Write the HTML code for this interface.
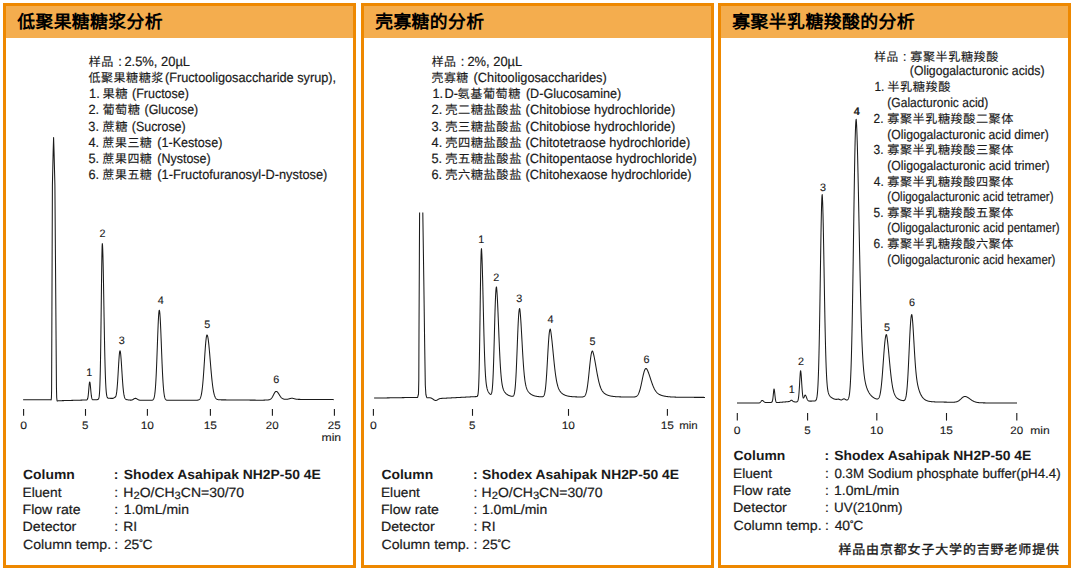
<!DOCTYPE html>
<html lang="zh-CN">
<head>
<meta charset="utf-8">
<title>Shodex Asahipak NH2P-50 4E</title>
<style>
html,body{margin:0;padding:0;background:#fff}
body{width:1075px;height:571px;position:relative;overflow:hidden;font-family:"Liberation Sans", sans-serif;color:#1a1a1a}
.panel{position:absolute;top:3px;width:353px;height:565px;box-sizing:border-box;border:3px solid #ee8800;background:#fff}
.panel .hd{position:absolute;left:0;top:0;right:0;height:32px;background:#f4ad4e}
.plot{position:absolute;left:0;top:0}
.t{position:absolute;white-space:pre;text-rendering:geometricPrecision;-webkit-text-stroke:0.2px currentColor;line-height:20px;height:20px;transform-origin:0 50%}
.t i{font-style:normal}
.t sub{font-size:80%;vertical-align:-2.2px;line-height:0}
.deg{font-size:70%;vertical-align:0.3em;line-height:0;margin:0 -0.04em}

.t i.c{font-size:12.1px;letter-spacing:0.5px;position:relative;top:-0.3px;-webkit-text-stroke:0.12px currentColor}
.t i.c3{font-size:12.0px;letter-spacing:0.5px;position:relative;top:-0.3px;-webkit-text-stroke:0.12px currentColor}
.ttl{letter-spacing:0.4px;color:#000;-webkit-text-stroke:0}
.ax{-webkit-text-stroke:0.12px currentColor}
.b{-webkit-text-stroke:0}
.cb{letter-spacing:0.9px;-webkit-text-stroke:0.35px currentColor}
</style>
</head>
<body>
<div class="panel" style="left:3px"><div class="hd"></div></div>
<div class="panel" style="left:361px"><div class="hd"></div></div>
<div class="panel" style="left:718px"><div class="hd"></div></div>
<svg class="plot" width="1075" height="571" viewBox="0 0 1075 571">
<g fill="none" stroke="#1a1a1a" stroke-width="1.05" stroke-linejoin="round" stroke-linecap="butt">
<path d="M23.10 399.80 L23.30 399.80 L23.50 399.80 L23.70 399.80 L23.90 399.80 L24.10 399.80 L24.30 399.80 L24.50 399.80 L24.70 399.80 L24.90 399.80 L25.10 399.80 L25.30 399.80 L25.50 399.80 L25.70 399.80 L25.90 399.80 L26.10 399.80 L26.30 399.80 L26.50 399.80 L26.70 399.80 L26.90 399.80 L27.10 399.80 L27.30 399.80 L27.50 399.80 L27.70 399.80 L27.90 399.80 L28.10 399.80 L28.30 399.80 L28.50 399.80 L28.70 399.80 L28.90 399.80 L29.10 399.80 L29.30 399.80 L29.50 399.80 L29.70 399.80 L29.90 399.80 L30.10 399.80 L30.30 399.80 L30.50 399.80 L30.70 399.80 L30.90 399.80 L31.10 399.80 L31.30 399.80 L31.50 399.80 L31.70 399.80 L31.90 399.80 L32.10 399.80 L32.30 399.80 L32.50 399.80 L32.70 399.80 L32.90 399.80 L33.10 399.80 L33.30 399.80 L33.50 399.80 L33.70 399.80 L33.90 399.80 L34.10 399.80 L34.30 399.80 L34.50 399.80 L34.70 399.80 L34.90 399.80 L35.10 399.80 L35.30 399.80 L35.50 399.80 L35.70 399.80 L35.90 399.80 L36.10 399.80 L36.30 399.80 L36.50 399.80 L36.70 399.80 L36.90 399.80 L37.10 399.80 L37.30 399.80 L37.50 399.80 L37.70 399.80 L37.90 399.80 L38.10 399.80 L38.30 399.80 L38.50 399.80 L38.70 399.80 L38.90 399.80 L39.10 399.80 L39.30 399.80 L39.50 399.80 L39.70 399.80 L39.90 399.80 L40.10 399.80 L40.30 399.80 L40.50 399.80 L40.70 399.80 L40.90 399.80 L41.10 399.80 L41.30 399.80 L41.50 399.80 L41.70 399.80 L41.90 399.80 L42.10 399.80 L42.30 399.80 L42.50 399.80 L42.70 399.80 L42.90 399.80 L43.10 399.80 L43.30 399.80 L43.50 399.80 L43.70 399.80 L43.90 399.80 L44.10 399.80 L44.30 399.80 L44.50 399.80 L44.70 399.80 L44.90 399.80 L45.10 399.80 L45.30 399.80 L45.50 399.80 L45.70 399.80 L45.90 399.80 L46.10 399.80 L46.30 399.80 L46.50 399.80 L46.70 399.80 L46.90 399.80 L47.10 399.80 L47.30 399.80 L47.50 399.80 L47.70 399.80 L47.90 399.80 L48.10 399.80 L48.30 399.80 L48.50 399.80 L48.70 399.80 L48.90 399.80 L49.10 399.80 L49.30 399.80 L49.50 399.80 L49.70 399.80 L49.90 399.81 L50.10 399.81 L50.30 399.82 L50.50 399.83 L50.70 399.85 L50.90 399.87 L51.10 399.88 L51.20 399.80 L51.45 397.00 L51.60 390.00 L52.40 185.00 L53.15 152.00 L53.60 137.50 L54.05 152.00 L54.90 185.00 L56.45 388.00 L56.70 397.50 L57.10 401.00 L57.80 400.90 L58.10 400.82 L58.30 400.81 L58.50 400.80 L58.70 400.79 L58.90 400.78 L59.10 400.76 L59.30 400.75 L59.50 400.74 L59.70 400.73 L59.90 400.72 L60.10 400.71 L60.30 400.70 L60.50 400.69 L60.70 400.69 L60.90 400.68 L61.10 400.67 L61.30 400.67 L61.50 400.66 L61.70 400.65 L61.90 400.65 L62.10 400.64 L62.30 400.64 L62.50 400.63 L62.70 400.63 L62.90 400.62 L63.10 400.62 L63.30 400.61 L63.50 400.61 L63.70 400.60 L63.90 400.60 L64.10 400.59 L64.30 400.58 L64.50 400.58 L64.70 400.57 L64.90 400.57 L65.10 400.56 L65.30 400.56 L65.50 400.55 L65.70 400.55 L65.90 400.54 L66.10 400.54 L66.30 400.53 L66.50 400.53 L66.70 400.52 L66.90 400.51 L67.10 400.51 L67.30 400.50 L67.50 400.50 L67.70 400.49 L67.90 400.49 L68.10 400.48 L68.30 400.48 L68.50 400.47 L68.70 400.47 L68.90 400.46 L69.10 400.45 L69.30 400.45 L69.50 400.44 L69.70 400.44 L69.90 400.43 L70.10 400.43 L70.30 400.42 L70.50 400.42 L70.70 400.41 L70.90 400.41 L71.10 400.40 L71.30 400.40 L71.50 400.39 L71.70 400.39 L71.90 400.38 L72.10 400.37 L72.30 400.37 L72.50 400.36 L72.70 400.36 L72.90 400.35 L73.10 400.35 L73.30 400.34 L73.50 400.34 L73.70 400.33 L73.90 400.33 L74.10 400.32 L74.30 400.31 L74.50 400.31 L74.70 400.30 L74.90 400.30 L75.10 400.29 L75.30 400.29 L75.50 400.28 L75.70 400.28 L75.90 400.27 L76.10 400.27 L76.30 400.26 L76.50 400.26 L76.70 400.25 L76.90 400.24 L77.10 400.24 L77.30 400.23 L77.50 400.23 L77.70 400.22 L77.90 400.22 L78.10 400.21 L78.30 400.21 L78.50 400.20 L78.70 400.20 L78.90 400.19 L79.10 400.19 L79.30 400.18 L79.50 400.18 L79.70 400.17 L79.90 400.16 L80.10 400.16 L80.30 400.15 L80.50 400.15 L80.70 400.14 L80.90 400.14 L81.10 400.13 L81.30 400.13 L81.50 400.12 L81.70 400.12 L81.90 400.11 L82.10 400.11 L82.30 400.10 L82.50 400.09 L82.70 400.09 L82.90 400.08 L83.10 400.08 L83.30 400.07 L83.50 400.07 L83.70 400.06 L83.90 400.06 L84.10 400.05 L84.30 400.05 L84.50 400.04 L84.70 400.04 L84.90 400.03 L85.10 400.02 L85.30 400.02 L85.50 400.01 L85.70 400.01 L85.90 400.00 L86.10 400.00 L86.30 399.98 L86.50 399.96 L86.70 399.92 L86.90 399.85 L87.10 399.72 L87.30 399.49 L87.50 399.11 L87.70 398.51 L87.90 397.61 L88.10 396.36 L88.30 394.70 L88.50 392.67 L88.70 390.35 L88.90 387.90 L89.10 385.58 L89.30 383.66 L89.50 382.38 L89.70 381.93 L89.90 382.30 L90.10 383.37 L90.30 385.01 L90.50 387.04 L90.70 389.25 L90.90 391.44 L91.10 393.45 L91.30 395.19 L91.50 396.60 L91.70 397.67 L91.90 398.46 L92.10 399.00 L92.30 399.35 L92.50 399.57 L92.70 399.71 L92.90 399.78 L93.10 399.82 L93.30 399.83 L93.50 399.84 L93.70 399.84 L93.90 399.84 L94.10 399.84 L94.30 399.83 L94.50 399.83 L94.70 399.82 L94.90 399.82 L95.10 399.81 L95.30 399.80 L95.50 399.79 L95.70 399.78 L95.90 399.76 L96.10 399.75 L96.30 399.73 L96.50 399.71 L96.70 399.69 L96.90 399.67 L97.10 399.64 L97.30 399.62 L97.50 399.58 L97.70 399.53 L97.90 399.47 L98.10 399.37 L98.30 399.21 L98.50 398.96 L98.70 398.56 L98.90 397.91 L99.10 396.90 L99.30 395.35 L99.50 393.05 L99.70 389.73 L99.90 385.10 L100.10 378.83 L100.30 370.64 L100.50 360.33 L100.70 347.86 L100.90 333.37 L101.10 317.29 L101.30 300.36 L101.50 283.58 L101.70 268.18 L101.90 255.50 L102.10 246.86 L102.30 243.56 L102.50 244.79 L102.70 248.46 L102.90 254.41 L103.10 262.35 L103.30 271.92 L103.50 282.71 L103.70 294.29 L103.90 306.22 L104.10 318.10 L104.30 329.57 L104.50 340.36 L104.70 350.25 L104.90 359.10 L105.10 366.84 L105.30 373.47 L105.50 379.02 L105.70 383.58 L105.90 387.25 L106.10 390.15 L106.30 392.39 L106.50 394.09 L106.70 395.35 L106.90 396.28 L107.10 396.94 L107.30 397.40 L107.50 397.72 L107.70 397.94 L107.90 398.08 L108.10 398.17 L108.30 398.23 L108.50 398.27 L108.70 398.29 L108.90 398.31 L109.10 398.32 L109.30 398.32 L109.50 398.33 L109.70 398.33 L109.90 398.34 L110.10 398.34 L110.30 398.35 L110.50 398.35 L110.70 398.36 L110.90 398.36 L111.10 398.37 L111.30 398.37 L111.50 398.37 L111.70 398.38 L111.90 398.38 L112.10 398.38 L112.30 398.39 L112.50 398.39 L112.70 398.38 L112.90 398.36 L113.10 398.33 L113.30 398.27 L113.50 398.18 L113.70 398.05 L113.90 397.90 L114.10 397.73 L114.30 397.58 L114.50 397.45 L114.60 397.40 L114.70 397.36 L114.90 397.30 L115.10 397.24 L115.30 397.13 L115.50 396.93 L115.70 396.60 L115.90 396.10 L116.10 395.40 L116.30 394.49 L116.50 393.32 L116.70 391.89 L116.90 390.18 L117.10 388.15 L117.30 385.82 L117.50 383.18 L117.70 380.26 L117.90 377.09 L118.10 373.74 L118.30 370.27 L118.50 366.78 L118.70 363.38 L118.90 360.18 L119.10 357.29 L119.30 354.83 L119.50 352.90 L119.70 351.56 L119.90 350.90 L120.00 350.82 L120.10 350.91 L120.30 351.50 L120.50 352.65 L120.70 354.31 L120.90 356.43 L121.10 358.93 L121.30 361.73 L121.50 364.76 L121.70 367.92 L121.90 371.13 L122.10 374.31 L122.30 377.40 L122.50 380.34 L122.70 383.08 L122.90 385.59 L123.10 387.86 L123.30 389.87 L123.50 391.62 L123.70 393.14 L123.90 394.42 L124.10 395.49 L124.30 396.38 L124.50 397.10 L124.70 397.68 L124.90 398.14 L125.10 398.51 L125.30 398.80 L125.50 399.02 L125.70 399.19 L125.90 399.33 L126.10 399.43 L126.30 399.52 L126.50 399.58 L126.70 399.64 L126.90 399.68 L127.10 399.72 L127.30 399.76 L127.50 399.79 L127.70 399.82 L127.90 399.85 L128.10 399.88 L128.30 399.90 L128.50 399.93 L128.70 399.96 L128.90 399.98 L129.10 400.01 L129.30 400.03 L129.50 400.05 L129.70 400.07 L129.90 400.09 L130.10 400.11 L130.30 400.13 L130.50 400.14 L130.70 400.14 L130.90 400.14 L131.10 400.13 L131.30 400.11 L131.50 400.08 L131.70 400.04 L131.90 399.99 L132.10 399.93 L132.30 399.85 L132.50 399.77 L132.70 399.67 L132.90 399.56 L133.10 399.44 L133.30 399.32 L133.50 399.19 L133.70 399.06 L133.90 398.93 L134.10 398.80 L134.30 398.69 L134.50 398.59 L134.70 398.50 L134.90 398.43 L135.10 398.39 L135.30 398.36 L135.40 398.36 L135.50 398.36 L135.70 398.38 L135.90 398.42 L136.10 398.48 L136.30 398.57 L136.50 398.66 L136.70 398.77 L136.90 398.89 L137.10 399.01 L137.30 399.14 L137.50 399.27 L137.70 399.39 L137.90 399.51 L138.10 399.62 L138.30 399.72 L138.50 399.81 L138.70 399.90 L138.90 399.97 L139.10 400.03 L139.30 400.08 L139.50 400.13 L139.70 400.17 L139.90 400.20 L140.10 400.22 L140.30 400.24 L140.50 400.25 L140.70 400.27 L140.90 400.27 L141.10 400.28 L141.30 400.29 L141.50 400.29 L141.70 400.29 L141.90 400.30 L142.10 400.30 L142.30 400.30 L142.50 400.30 L142.70 400.30 L142.90 400.30 L143.10 400.30 L143.30 400.30 L143.50 400.30 L143.70 400.30 L143.90 400.30 L144.10 400.30 L144.30 400.30 L144.50 400.30 L144.70 400.30 L144.90 400.30 L145.10 400.30 L145.30 400.30 L145.50 400.30 L145.70 400.30 L145.90 400.30 L146.10 400.30 L146.30 400.30 L146.50 400.30 L146.70 400.30 L146.90 400.30 L147.10 400.30 L147.30 400.30 L147.50 400.30 L147.70 400.30 L147.90 400.30 L148.10 400.30 L148.30 400.30 L148.50 400.30 L148.70 400.30 L148.90 400.30 L149.10 400.30 L149.30 400.30 L149.50 400.30 L149.70 400.30 L149.90 400.30 L150.10 400.30 L150.30 400.30 L150.50 400.30 L150.70 400.29 L150.90 400.29 L151.10 400.29 L151.30 400.28 L151.50 400.27 L151.70 400.25 L151.90 400.23 L152.10 400.20 L152.30 400.15 L152.50 400.09 L152.70 400.00 L152.90 399.88 L153.10 399.72 L153.30 399.50 L153.50 399.20 L153.70 398.82 L153.90 398.33 L154.10 397.70 L154.30 396.90 L154.50 395.90 L154.70 394.68 L154.90 393.18 L155.10 391.38 L155.30 389.24 L155.50 386.73 L155.70 383.83 L155.90 380.51 L156.10 376.77 L156.30 372.62 L156.50 368.08 L156.70 363.18 L156.90 357.99 L157.10 352.57 L157.30 347.01 L157.50 341.43 L157.70 335.95 L157.90 330.68 L158.10 325.78 L158.30 321.35 L158.50 317.54 L158.70 314.45 L158.90 312.17 L159.10 310.77 L159.30 310.30 L159.50 310.71 L159.70 311.95 L159.90 313.96 L160.10 316.71 L160.30 320.12 L160.50 324.09 L160.70 328.53 L160.90 333.33 L161.10 338.39 L161.30 343.59 L161.50 348.83 L161.70 354.02 L161.90 359.07 L162.10 363.90 L162.30 368.47 L162.50 372.71 L162.70 376.61 L162.90 380.15 L163.10 383.32 L163.30 386.11 L163.50 388.56 L163.70 390.68 L163.90 392.48 L164.10 394.01 L164.30 395.28 L164.50 396.34 L164.70 397.20 L164.90 397.89 L165.10 398.45 L165.30 398.89 L165.50 399.24 L165.70 399.51 L165.90 399.71 L166.10 399.87 L166.30 399.99 L166.50 400.07 L166.70 400.14 L166.90 400.19 L167.10 400.22 L167.30 400.24 L167.50 400.26 L167.70 400.27 L167.90 400.28 L168.10 400.29 L168.30 400.29 L168.50 400.29 L168.70 400.30 L168.90 400.30 L169.10 400.30 L169.30 400.30 L169.50 400.30 L169.70 400.30 L169.90 400.30 L170.10 400.30 L170.30 400.30 L170.50 400.30 L170.70 400.30 L170.90 400.30 L171.10 400.30 L171.30 400.30 L171.50 400.29 L171.70 400.29 L171.90 400.29 L172.10 400.29 L172.30 400.29 L172.50 400.29 L172.70 400.29 L172.90 400.29 L173.10 400.29 L173.30 400.29 L173.50 400.29 L173.70 400.29 L173.90 400.29 L174.10 400.29 L174.30 400.29 L174.50 400.28 L174.70 400.28 L174.90 400.28 L175.10 400.28 L175.30 400.28 L175.50 400.28 L175.70 400.28 L175.90 400.28 L176.10 400.28 L176.30 400.28 L176.50 400.28 L176.70 400.28 L176.90 400.28 L177.10 400.28 L177.30 400.28 L177.50 400.28 L177.70 400.27 L177.90 400.27 L178.10 400.27 L178.30 400.27 L178.50 400.27 L178.70 400.27 L178.90 400.27 L179.10 400.27 L179.30 400.27 L179.50 400.27 L179.70 400.27 L179.90 400.27 L180.10 400.27 L180.30 400.27 L180.50 400.26 L180.70 400.26 L180.90 400.26 L181.10 400.26 L181.30 400.26 L181.50 400.26 L181.70 400.26 L181.90 400.26 L182.10 400.26 L182.30 400.26 L182.50 400.26 L182.70 400.26 L182.90 400.26 L183.10 400.26 L183.30 400.26 L183.50 400.26 L183.70 400.25 L183.90 400.25 L184.10 400.25 L184.30 400.25 L184.50 400.25 L184.70 400.25 L184.90 400.25 L185.10 400.25 L185.30 400.25 L185.50 400.25 L185.70 400.25 L185.90 400.25 L186.10 400.25 L186.30 400.25 L186.50 400.24 L186.70 400.24 L186.90 400.24 L187.10 400.24 L187.30 400.24 L187.50 400.24 L187.70 400.24 L187.90 400.24 L188.10 400.24 L188.30 400.24 L188.50 400.24 L188.70 400.24 L188.90 400.24 L189.10 400.24 L189.30 400.24 L189.50 400.23 L189.70 400.23 L189.90 400.23 L190.10 400.23 L190.30 400.23 L190.50 400.23 L190.70 400.23 L190.90 400.23 L191.10 400.23 L191.30 400.23 L191.50 400.23 L191.70 400.23 L191.90 400.23 L192.10 400.23 L192.30 400.23 L192.50 400.22 L192.70 400.22 L192.90 400.22 L193.10 400.22 L193.30 400.22 L193.50 400.22 L193.70 400.22 L193.90 400.22 L194.10 400.22 L194.30 400.22 L194.50 400.22 L194.70 400.22 L194.90 400.22 L195.10 400.22 L195.30 400.21 L195.50 400.21 L195.70 400.21 L195.90 400.21 L196.10 400.21 L196.30 400.20 L196.50 400.20 L196.70 400.19 L196.90 400.19 L197.10 400.18 L197.30 400.16 L197.50 400.15 L197.70 400.12 L197.90 400.10 L198.10 400.06 L198.30 400.01 L198.50 399.96 L198.70 399.88 L198.90 399.79 L199.10 399.67 L199.30 399.52 L199.50 399.34 L199.70 399.12 L199.90 398.85 L200.10 398.53 L200.30 398.14 L200.50 397.67 L200.70 397.12 L200.90 396.47 L201.10 395.72 L201.30 394.84 L201.50 393.83 L201.70 392.68 L201.90 391.38 L202.10 389.92 L202.30 388.28 L202.50 386.47 L202.70 384.48 L202.90 382.31 L203.10 379.97 L203.30 377.46 L203.50 374.80 L203.70 372.00 L203.90 369.09 L204.10 366.08 L204.30 363.01 L204.50 359.91 L204.70 356.83 L204.90 353.79 L205.10 350.84 L205.30 348.03 L205.50 345.40 L205.70 342.98 L205.90 340.83 L206.10 338.97 L206.30 337.44 L206.50 336.27 L206.70 335.47 L206.90 335.07 L207.00 335.01 L207.10 335.04 L207.30 335.29 L207.50 335.78 L207.70 336.51 L207.90 337.47 L208.10 338.65 L208.30 340.04 L208.50 341.63 L208.70 343.39 L208.90 345.30 L209.10 347.36 L209.30 349.53 L209.50 351.79 L209.70 354.13 L209.90 356.53 L210.10 358.95 L210.30 361.39 L210.50 363.82 L210.70 366.22 L210.90 368.59 L211.10 370.90 L211.30 373.14 L211.50 375.30 L211.70 377.38 L211.90 379.35 L212.10 381.23 L212.30 382.99 L212.50 384.65 L212.70 386.20 L212.90 387.63 L213.10 388.96 L213.30 390.17 L213.50 391.29 L213.70 392.30 L213.90 393.22 L214.10 394.05 L214.30 394.79 L214.50 395.45 L214.70 396.04 L214.90 396.57 L215.10 397.03 L215.30 397.43 L215.50 397.78 L215.70 398.09 L215.90 398.36 L216.10 398.59 L216.30 398.79 L216.50 398.96 L216.70 399.10 L216.90 399.23 L217.10 399.33 L217.30 399.42 L217.50 399.49 L217.70 399.56 L217.90 399.61 L218.10 399.65 L218.30 399.69 L218.50 399.72 L218.70 399.74 L218.90 399.76 L219.10 399.78 L219.30 399.79 L219.50 399.80 L219.70 399.81 L219.90 399.82 L220.10 399.83 L220.30 399.83 L220.50 399.84 L220.70 399.84 L220.90 399.84 L221.10 399.85 L221.30 399.85 L221.50 399.85 L221.70 399.85 L221.90 399.86 L222.10 399.86 L222.30 399.86 L222.50 399.86 L222.70 399.87 L222.90 399.87 L223.10 399.87 L223.30 399.87 L223.50 399.87 L223.70 399.87 L223.90 399.88 L224.10 399.88 L224.30 399.88 L224.50 399.88 L224.70 399.88 L224.90 399.88 L225.10 399.89 L225.30 399.89 L225.50 399.89 L225.70 399.89 L225.90 399.89 L226.10 399.89 L226.30 399.90 L226.50 399.90 L226.70 399.90 L226.90 399.90 L227.10 399.90 L227.30 399.90 L227.50 399.91 L227.70 399.91 L227.90 399.91 L228.10 399.91 L228.30 399.91 L228.50 399.91 L228.70 399.92 L228.90 399.92 L229.10 399.92 L229.30 399.92 L229.50 399.92 L229.70 399.93 L229.90 399.93 L230.10 399.93 L230.30 399.93 L230.50 399.93 L230.70 399.93 L230.90 399.94 L231.10 399.94 L231.30 399.94 L231.50 399.94 L231.70 399.94 L231.90 399.94 L232.10 399.95 L232.30 399.95 L232.50 399.95 L232.70 399.95 L232.90 399.95 L233.10 399.95 L233.30 399.96 L233.50 399.96 L233.70 399.96 L233.90 399.96 L234.10 399.96 L234.30 399.96 L234.50 399.97 L234.70 399.97 L234.90 399.97 L235.10 399.97 L235.30 399.97 L235.50 399.97 L235.70 399.98 L235.90 399.98 L236.10 399.98 L236.30 399.98 L236.50 399.98 L236.70 399.98 L236.90 399.99 L237.10 399.99 L237.30 399.99 L237.50 399.99 L237.70 399.99 L237.90 399.99 L238.10 400.00 L238.30 400.00 L238.50 400.00 L238.70 400.00 L238.90 400.00 L239.10 400.01 L239.30 400.01 L239.50 400.01 L239.70 400.01 L239.90 400.01 L240.10 400.01 L240.30 400.02 L240.50 400.02 L240.70 400.02 L240.90 400.02 L241.10 400.02 L241.30 400.02 L241.50 400.03 L241.70 400.03 L241.90 400.03 L242.10 400.03 L242.30 400.03 L242.50 400.03 L242.70 400.04 L242.90 400.04 L243.10 400.04 L243.30 400.04 L243.50 400.04 L243.70 400.04 L243.90 400.05 L244.10 400.05 L244.30 400.05 L244.50 400.05 L244.70 400.05 L244.90 400.05 L245.10 400.06 L245.30 400.06 L245.50 400.06 L245.70 400.06 L245.90 400.06 L246.10 400.06 L246.30 400.07 L246.50 400.07 L246.70 400.07 L246.90 400.07 L247.10 400.07 L247.30 400.07 L247.50 400.08 L247.70 400.08 L247.90 400.08 L248.10 400.08 L248.30 400.08 L248.50 400.09 L248.70 400.09 L248.90 400.09 L249.10 400.09 L249.30 400.09 L249.50 400.09 L249.70 400.10 L249.90 400.10 L250.10 400.10 L250.30 400.10 L250.50 400.10 L250.70 400.10 L250.90 400.11 L251.10 400.11 L251.30 400.11 L251.50 400.11 L251.70 400.11 L251.90 400.11 L252.10 400.12 L252.30 400.12 L252.50 400.12 L252.70 400.12 L252.90 400.12 L253.10 400.12 L253.30 400.13 L253.50 400.13 L253.70 400.13 L253.90 400.13 L254.10 400.13 L254.30 400.13 L254.50 400.14 L254.70 400.14 L254.90 400.14 L255.10 400.14 L255.30 400.14 L255.50 400.14 L255.70 400.15 L255.90 400.15 L256.10 400.15 L256.30 400.15 L256.50 400.15 L256.70 400.15 L256.90 400.16 L257.10 400.16 L257.30 400.16 L257.50 400.16 L257.70 400.16 L257.90 400.17 L258.10 400.17 L258.30 400.17 L258.50 400.17 L258.70 400.17 L258.90 400.17 L259.10 400.18 L259.30 400.18 L259.50 400.18 L259.70 400.18 L259.90 400.18 L260.10 400.18 L260.30 400.19 L260.50 400.19 L260.70 400.19 L260.90 400.19 L261.10 400.19 L261.30 400.19 L261.50 400.19 L261.70 400.19 L261.90 400.18 L262.10 400.18 L262.30 400.18 L262.50 400.17 L262.70 400.17 L262.90 400.16 L263.10 400.16 L263.30 400.15 L263.50 400.15 L263.70 400.14 L263.90 400.13 L264.10 400.12 L264.30 400.12 L264.50 400.11 L264.70 400.10 L264.90 400.10 L265.10 400.09 L265.30 400.08 L265.50 400.07 L265.70 400.07 L265.90 400.06 L266.10 400.05 L266.30 400.04 L266.50 400.03 L266.70 400.02 L266.90 400.01 L267.10 400.00 L267.30 399.99 L267.50 399.98 L267.70 399.96 L267.90 399.94 L268.10 399.92 L268.30 399.90 L268.50 399.87 L268.70 399.84 L268.90 399.80 L269.10 399.76 L269.30 399.70 L269.50 399.64 L269.70 399.57 L269.90 399.49 L270.10 399.39 L270.30 399.28 L270.50 399.15 L270.70 399.01 L270.90 398.85 L271.10 398.66 L271.30 398.46 L271.50 398.23 L271.70 397.98 L271.90 397.71 L272.10 397.42 L272.30 397.10 L272.50 396.77 L272.70 396.41 L272.90 396.04 L273.10 395.65 L273.30 395.26 L273.50 394.86 L273.70 394.46 L273.90 394.06 L274.10 393.67 L274.30 393.29 L274.50 392.94 L274.70 392.61 L274.90 392.31 L275.10 392.05 L275.30 391.82 L275.50 391.64 L275.70 391.51 L275.90 391.43 L276.10 391.40 L276.30 391.41 L276.50 391.45 L276.70 391.53 L276.90 391.65 L277.10 391.79 L277.30 391.97 L277.50 392.17 L277.70 392.40 L277.90 392.65 L278.10 392.92 L278.30 393.21 L278.50 393.51 L278.70 393.82 L278.90 394.14 L279.10 394.46 L279.30 394.78 L279.50 395.10 L279.70 395.42 L279.90 395.73 L280.10 396.03 L280.30 396.32 L280.50 396.59 L280.70 396.86 L280.90 397.10 L281.10 397.34 L281.30 397.56 L281.50 397.76 L281.70 397.95 L281.90 398.12 L282.10 398.27 L282.30 398.41 L282.50 398.54 L282.70 398.65 L282.90 398.75 L283.10 398.84 L283.30 398.92 L283.50 398.99 L283.70 399.05 L283.90 399.10 L284.10 399.14 L284.30 399.17 L284.50 399.20 L284.70 399.23 L284.90 399.25 L285.10 399.26 L285.30 399.27 L285.50 399.28 L285.70 399.28 L285.90 399.28 L286.10 399.28 L286.30 399.27 L286.50 399.26 L286.70 399.25 L286.90 399.24 L287.10 399.22 L287.30 399.20 L287.50 399.18 L287.70 399.15 L287.90 399.12 L288.10 399.08 L288.30 399.04 L288.50 398.99 L288.70 398.95 L288.90 398.90 L289.10 398.84 L289.30 398.79 L289.50 398.73 L289.70 398.67 L289.90 398.61 L290.10 398.55 L290.30 398.50 L290.50 398.44 L290.70 398.39 L290.90 398.35 L291.10 398.31 L291.30 398.28 L291.50 398.26 L291.70 398.24 L291.90 398.24 L292.00 398.24 L292.10 398.24 L292.30 398.26 L292.50 398.28 L292.70 398.31 L292.90 398.34 L293.10 398.39 L293.30 398.44 L293.50 398.49 L293.70 398.55 L293.90 398.61 L294.10 398.67 L294.30 398.73 L294.50 398.79 L294.70 398.85 L294.90 398.90 L295.10 398.96 L295.30 399.01 L295.50 399.05 L295.70 399.09 L295.90 399.13 L296.10 399.17 L296.30 399.20 L296.50 399.22 L296.70 399.25 L296.90 399.27 L297.10 399.29 L297.30 399.30 L297.50 399.32 L297.70 399.33 L297.90 399.34 L298.10 399.35 L298.30 399.35 L298.50 399.36 L298.70 399.37 L298.90 399.37 L299.10 399.38 L299.30 399.38 L299.50 399.39 L299.70 399.39 L299.90 399.39 L300.10 399.39 L300.30 399.40 L300.50 399.40 L300.70 399.40 L300.90 399.40 L301.10 399.41 L301.30 399.41 L301.50 399.41 L301.70 399.41 L301.90 399.41 L302.10 399.41 L302.30 399.41 L302.50 399.41 L302.70 399.42 L302.90 399.42 L303.10 399.42 L303.30 399.42 L303.50 399.42 L303.70 399.42 L303.90 399.42 L304.10 399.42 L304.30 399.43 L304.50 399.43 L304.70 399.43 L304.90 399.43 L305.10 399.43 L305.30 399.43 L305.50 399.43 L305.70 399.43 L305.90 399.43 L306.10 399.44 L306.30 399.44 L306.50 399.44 L306.70 399.44 L306.90 399.44 L307.10 399.44 L307.30 399.44 L307.50 399.44 L307.70 399.45 L307.90 399.45 L308.10 399.45 L308.30 399.45 L308.50 399.45 L308.70 399.45 L308.90 399.45 L309.10 399.45 L309.30 399.45 L309.50 399.46 L309.70 399.46 L309.90 399.46 L310.10 399.46 L310.30 399.46 L310.50 399.46 L310.70 399.46 L310.90 399.46 L311.10 399.47 L311.30 399.47 L311.50 399.47 L311.70 399.47 L311.90 399.47 L312.10 399.47 L312.30 399.47 L312.50 399.47 L312.70 399.47 L312.90 399.48 L313.10 399.48 L313.30 399.48 L313.50 399.48 L313.70 399.48 L313.90 399.48 L314.10 399.48 L314.30 399.48 L314.50 399.49 L314.70 399.49 L314.90 399.49 L315.10 399.49 L315.30 399.49 L315.50 399.49 L315.70 399.49 L315.90 399.49 L316.10 399.49 L316.30 399.50 L316.50 399.50 L316.70 399.50 L316.90 399.50 L317.10 399.50 L317.30 399.50 L317.50 399.50 L317.70 399.50 L317.90 399.51 L318.10 399.51 L318.30 399.51 L318.50 399.51 L318.70 399.51 L318.90 399.51 L319.10 399.51 L319.30 399.51 L319.50 399.51 L319.70 399.52 L319.90 399.52 L320.10 399.52 L320.30 399.52 L320.50 399.52 L320.70 399.52 L320.90 399.52 L321.10 399.52 L321.30 399.53 L321.50 399.53 L321.70 399.53 L321.90 399.53 L322.10 399.53 L322.30 399.53 L322.50 399.53 L322.70 399.53 L322.90 399.53 L323.10 399.54 L323.30 399.54 L323.50 399.54 L323.70 399.54 L323.90 399.54 L324.10 399.54 L324.30 399.54 L324.50 399.54 L324.70 399.55 L324.90 399.55 L325.10 399.55 L325.30 399.55 L325.50 399.55 L325.70 399.55 L325.90 399.55 L326.10 399.55 L326.30 399.55 L326.50 399.56 L326.70 399.56 L326.90 399.56 L327.10 399.56 L327.30 399.56 L327.50 399.56 L327.70 399.56 L327.90 399.56 L328.10 399.57 L328.30 399.57 L328.50 399.57 L328.70 399.57 L328.90 399.57 L329.10 399.57 L329.30 399.57 L329.50 399.57 L329.70 399.57 L329.90 399.58 L330.10 399.58 L330.30 399.58 L330.50 399.58 L330.70 399.58 L330.90 399.58 L331.10 399.58 L331.30 399.58 L331.50 399.59 L331.70 399.59 L331.90 399.59 L332.10 399.59 L332.30 399.59 L332.50 399.59 L332.70 399.59 L332.90 399.59 L333.10 399.59 L333.30 399.60 L333.50 399.60 L333.70 399.60"/>
<path d="M374.10 398.09 L374.60 398.09 L375.10 398.08 L375.60 398.08 L376.10 398.07 L376.60 398.06 L377.10 398.05 L377.60 398.04 L378.10 398.03 L378.60 398.03 L379.10 398.02 L379.60 398.01 L380.10 398.00 L380.60 397.99 L381.10 397.99 L381.60 397.98 L382.10 397.97 L382.60 397.96 L383.10 397.95 L383.60 397.94 L384.10 397.94 L384.60 397.93 L385.10 397.92 L385.60 397.91 L386.10 397.90 L386.60 397.90 L387.10 397.89 L387.60 397.88 L388.10 397.87 L388.60 397.86 L389.10 397.85 L389.60 397.85 L390.10 397.84 L390.60 397.83 L391.10 397.82 L391.60 397.81 L392.10 397.80 L392.60 397.80 L393.10 397.79 L393.60 397.78 L394.10 397.77 L394.60 397.76 L395.10 397.76 L395.60 397.75 L396.10 397.74 L396.60 397.73 L397.10 397.72 L397.60 397.71 L398.10 397.71 L398.60 397.70 L399.10 397.69 L399.60 397.68 L400.10 397.67 L400.60 397.67 L401.10 397.66 L401.60 397.65 L402.10 397.64 L402.60 397.63 L403.10 397.62 L403.60 397.62 L404.10 397.61 L404.60 397.60 L405.10 397.59 L405.60 397.58 L406.10 397.58 L406.60 397.57 L407.10 397.56 L407.60 397.55 L408.10 397.54 L408.60 397.53 L409.10 397.53 L409.60 397.52 L410.10 397.51 L410.60 397.50 L411.10 397.49 L411.60 397.49 L412.10 397.48 L412.60 397.47 L413.10 397.46 L413.60 397.45 L414.10 397.44 L414.60 397.44 L415.10 397.43 L415.60 397.42 L416.10 397.42 L416.60 397.42 L417.10 397.43 L417.60 397.44 L418.50 394.00 L418.80 380.00 L419.00 330.00 L419.60 212.60"/>
<path d="M422.80 212.60 L423.80 280.00 L424.60 340.00 L425.30 385.00 L425.90 394.50 L426.60 397.20 L427.00 397.76 L427.20 397.76 L427.40 397.76 L427.60 397.75 L427.80 397.74 L428.00 397.74 L428.20 397.73 L428.40 397.72 L428.60 397.71 L428.80 397.70 L429.00 397.69 L429.20 397.68 L429.40 397.69 L429.60 397.70 L429.80 397.73 L430.00 397.75 L430.20 397.80 L430.40 397.84 L430.60 397.89 L430.80 397.96 L431.00 398.03 L431.20 398.11 L431.40 398.19 L431.60 398.29 L431.80 398.40 L432.00 398.52 L432.20 398.64 L432.40 398.77 L432.60 398.90 L432.80 399.03 L433.00 399.16 L433.20 399.29 L433.40 399.43 L433.60 399.56 L433.80 399.69 L434.00 399.83 L434.20 399.97 L434.40 400.09 L434.60 400.19 L434.80 400.28 L435.00 400.34 L435.20 400.40 L435.40 400.43 L435.60 400.45 L435.80 400.45 L436.00 400.44 L436.20 400.41 L436.40 400.36 L436.60 400.31 L436.80 400.22 L437.00 400.13 L437.20 400.01 L437.40 399.88 L437.60 399.75 L437.80 399.62 L438.00 399.49 L438.20 399.36 L438.40 399.25 L438.60 399.14 L438.80 399.04 L439.00 398.94 L439.20 398.86 L439.40 398.78 L439.60 398.71 L439.80 398.65 L440.00 398.59 L440.20 398.54 L440.40 398.50 L440.60 398.47 L440.80 398.44 L441.00 398.42 L441.20 398.41 L441.40 398.40 L441.60 398.39 L441.80 398.38 L442.00 398.37 L442.20 398.36 L442.40 398.35 L442.60 398.34 L442.80 398.33 L443.00 398.32 L443.20 398.31 L443.40 398.29 L443.60 398.28 L443.80 398.27 L444.00 398.26 L444.20 398.25 L444.40 398.24 L444.60 398.23 L444.80 398.22 L445.00 398.21 L445.20 398.20 L445.40 398.19 L445.60 398.18 L445.80 398.17 L446.00 398.16 L446.20 398.15 L446.40 398.14 L446.60 398.13 L446.80 398.12 L447.00 398.11 L447.20 398.09 L447.40 398.08 L447.60 398.07 L447.80 398.06 L448.00 398.05 L448.20 398.04 L448.40 398.03 L448.60 398.02 L448.80 398.01 L449.00 398.00 L449.20 397.99 L449.40 397.98 L449.60 397.97 L449.80 397.96 L450.00 397.95 L450.20 397.94 L450.40 397.93 L450.60 397.92 L450.80 397.91 L451.00 397.89 L451.20 397.88 L451.40 397.87 L451.60 397.86 L451.80 397.85 L452.00 397.84 L452.20 397.83 L452.40 397.82 L452.60 397.81 L452.80 397.80 L453.00 397.79 L453.20 397.78 L453.40 397.77 L453.60 397.76 L453.80 397.75 L454.00 397.74 L454.20 397.73 L454.40 397.72 L454.60 397.71 L454.80 397.69 L455.00 397.68 L455.20 397.67 L455.40 397.66 L455.60 397.65 L455.80 397.64 L456.00 397.63 L456.20 397.62 L456.40 397.61 L456.60 397.60 L456.80 397.59 L457.00 397.58 L457.20 397.57 L457.40 397.56 L457.60 397.55 L457.80 397.54 L458.00 397.53 L458.20 397.52 L458.40 397.51 L458.60 397.49 L458.80 397.48 L459.00 397.47 L459.20 397.46 L459.40 397.45 L459.60 397.44 L459.80 397.43 L460.00 397.42 L460.20 397.41 L460.40 397.40 L460.60 397.39 L460.80 397.38 L461.00 397.37 L461.20 397.36 L461.40 397.35 L461.60 397.34 L461.80 397.33 L462.00 397.32 L462.20 397.31 L462.40 397.29 L462.60 397.28 L462.80 397.27 L463.00 397.26 L463.20 397.25 L463.40 397.24 L463.60 397.23 L463.80 397.22 L464.00 397.21 L464.20 397.20 L464.40 397.19 L464.60 397.18 L464.80 397.17 L465.00 397.16 L465.20 397.15 L465.40 397.14 L465.60 397.13 L465.80 397.12 L466.00 397.11 L466.20 397.09 L466.40 397.08 L466.60 397.07 L466.80 397.06 L467.00 397.05 L467.20 397.04 L467.40 397.03 L467.60 397.02 L467.80 397.01 L468.00 397.00 L468.20 396.99 L468.40 396.98 L468.60 396.97 L468.80 396.96 L469.00 396.95 L469.20 396.94 L469.40 396.93 L469.60 396.92 L469.80 396.91 L470.00 396.89 L470.20 396.88 L470.40 396.87 L470.60 396.86 L470.80 396.85 L471.00 396.84 L471.20 396.83 L471.40 396.82 L471.60 396.81 L471.80 396.80 L472.00 396.79 L472.20 396.78 L472.40 396.77 L472.60 396.76 L472.80 396.75 L473.00 396.74 L473.20 396.73 L473.40 396.72 L473.60 396.71 L473.80 396.69 L474.00 396.68 L474.20 396.67 L474.40 396.66 L474.60 396.66 L474.80 396.65 L475.00 396.64 L475.20 396.64 L475.40 396.63 L475.60 396.62 L475.80 396.62 L476.00 396.62 L476.20 396.61 L476.40 396.60 L476.60 396.59 L476.80 396.56 L477.00 396.51 L477.20 396.40 L477.40 396.21 L477.60 395.86 L477.80 395.27 L478.00 394.31 L478.20 392.79 L478.40 390.50 L478.60 387.17 L478.80 382.52 L479.00 376.28 L479.20 368.25 L479.40 358.34 L479.60 346.62 L479.80 333.34 L480.00 318.98 L480.20 304.21 L480.40 289.81 L480.60 276.63 L480.80 265.46 L481.00 256.92 L481.20 251.39 L481.40 248.90 L481.50 248.65 L481.60 249.76 L481.80 253.18 L482.00 257.88 L482.20 263.71 L482.40 270.50 L482.60 278.07 L482.80 286.22 L483.00 294.76 L483.20 303.47 L483.40 312.18 L483.60 320.70 L483.80 328.90 L484.00 336.63 L484.20 343.82 L484.40 350.41 L484.60 356.35 L484.80 361.64 L485.00 366.30 L485.20 370.36 L485.40 373.85 L485.60 376.84 L485.80 379.38 L486.00 381.52 L486.20 383.33 L486.40 384.84 L486.60 386.12 L486.80 387.21 L487.00 388.13 L487.20 388.91 L487.40 389.60 L487.60 390.19 L487.80 390.71 L488.00 391.18 L488.20 391.60 L488.40 391.98 L488.60 392.33 L488.80 392.65 L489.00 392.94 L489.20 393.20 L489.40 393.45 L489.60 393.68 L489.80 393.88 L490.00 394.05 L490.20 394.20 L490.40 394.31 L490.60 394.38 L490.80 394.38 L491.00 394.29 L491.20 394.09 L491.40 393.74 L491.60 393.18 L491.80 392.37 L492.00 391.23 L492.20 389.70 L492.40 387.70 L492.60 385.15 L492.80 381.98 L493.00 378.15 L493.20 373.62 L493.40 368.37 L493.60 362.45 L493.80 355.90 L494.00 348.85 L494.20 341.42 L494.40 333.80 L494.60 326.19 L494.80 318.79 L495.00 311.81 L495.20 305.46 L495.40 299.91 L495.60 295.30 L495.80 291.70 L496.00 289.16 L496.20 287.63 L496.40 287.01 L496.50 286.96 L496.60 287.67 L496.80 289.69 L497.00 292.33 L497.20 295.50 L497.40 299.15 L497.60 303.22 L497.80 307.63 L498.00 312.32 L498.20 317.22 L498.40 322.24 L498.60 327.32 L498.80 332.40 L499.00 337.40 L499.20 342.26 L499.40 346.95 L499.60 351.41 L499.80 355.62 L500.00 359.55 L500.20 363.19 L500.40 366.54 L500.60 369.58 L500.80 372.34 L501.00 374.82 L501.20 377.03 L501.40 378.99 L501.60 380.73 L501.80 382.27 L502.00 383.62 L502.20 384.80 L502.40 385.84 L502.60 386.76 L502.80 387.57 L503.00 388.28 L503.20 388.91 L503.40 389.47 L503.60 389.97 L503.80 390.43 L504.00 390.84 L504.20 391.21 L504.40 391.56 L504.60 391.88 L504.80 392.17 L505.00 392.44 L505.20 392.70 L505.40 392.93 L505.60 393.16 L505.80 393.37 L506.00 393.57 L506.20 393.75 L506.40 393.93 L506.60 394.10 L506.80 394.25 L507.00 394.40 L507.20 394.54 L507.40 394.68 L507.60 394.80 L507.80 394.92 L508.00 395.03 L508.20 395.14 L508.40 395.24 L508.60 395.34 L508.80 395.43 L509.00 395.51 L509.20 395.59 L509.40 395.67 L509.60 395.74 L509.80 395.81 L510.00 395.87 L510.20 395.93 L510.40 395.99 L510.60 396.05 L510.80 396.10 L511.00 396.14 L511.20 396.19 L511.40 396.23 L511.60 396.26 L511.80 396.29 L512.00 396.32 L512.20 396.33 L512.40 396.33 L512.60 396.31 L512.80 396.26 L513.00 396.19 L513.20 396.07 L513.40 395.88 L513.60 395.62 L513.80 395.26 L514.00 394.78 L514.20 394.14 L514.40 393.31 L514.60 392.26 L514.80 390.94 L515.00 389.32 L515.20 387.37 L515.40 385.04 L515.60 382.32 L515.80 379.20 L516.00 375.65 L516.20 371.71 L516.40 367.38 L516.60 362.72 L516.80 357.78 L517.00 352.65 L517.20 347.40 L517.40 342.13 L517.60 336.95 L517.80 331.97 L518.00 327.29 L518.20 323.01 L518.40 319.21 L518.60 315.95 L518.80 313.28 L519.00 311.23 L519.20 309.79 L519.40 308.92 L519.60 308.57 L519.70 308.54 L519.80 309.09 L520.00 310.60 L520.20 312.53 L520.40 314.81 L520.60 317.41 L520.80 320.29 L521.00 323.40 L521.20 326.72 L521.40 330.19 L521.60 333.77 L521.80 337.42 L522.00 341.09 L522.20 344.75 L522.40 348.34 L522.60 351.85 L522.80 355.25 L523.00 358.49 L523.20 361.58 L523.40 364.49 L523.60 367.21 L523.80 369.73 L524.00 372.06 L524.20 374.20 L524.40 376.15 L524.60 377.93 L524.80 379.53 L525.00 380.97 L525.20 382.27 L525.40 383.43 L525.60 384.47 L525.80 385.39 L526.00 386.23 L526.20 386.97 L526.40 387.64 L526.60 388.24 L526.80 388.78 L527.00 389.28 L527.20 389.73 L527.40 390.14 L527.60 390.51 L527.80 390.86 L528.00 391.18 L528.20 391.48 L528.40 391.77 L528.60 392.03 L528.80 392.28 L529.00 392.51 L529.20 392.73 L529.40 392.94 L529.60 393.14 L529.80 393.33 L530.00 393.50 L530.20 393.67 L530.40 393.84 L530.60 393.99 L530.80 394.14 L531.00 394.28 L531.20 394.41 L531.40 394.54 L531.60 394.66 L531.80 394.77 L532.00 394.88 L532.20 394.99 L532.40 395.08 L532.60 395.18 L532.80 395.27 L533.00 395.35 L533.20 395.44 L533.40 395.51 L533.60 395.59 L533.80 395.66 L534.00 395.72 L534.20 395.79 L534.40 395.85 L534.60 395.91 L534.80 395.96 L535.00 396.01 L535.20 396.06 L535.40 396.11 L535.60 396.15 L535.80 396.20 L536.00 396.24 L536.20 396.28 L536.40 396.31 L536.60 396.35 L536.80 396.38 L537.00 396.41 L537.20 396.44 L537.40 396.47 L537.60 396.50 L537.80 396.52 L538.00 396.55 L538.20 396.57 L538.40 396.59 L538.60 396.61 L538.80 396.63 L539.00 396.65 L539.20 396.67 L539.40 396.69 L539.60 396.70 L539.80 396.72 L540.00 396.73 L540.20 396.75 L540.40 396.76 L540.60 396.77 L540.80 396.78 L541.00 396.79 L541.20 396.80 L541.40 396.80 L541.60 396.80 L541.80 396.80 L542.00 396.79 L542.20 396.78 L542.40 396.75 L542.60 396.71 L542.80 396.65 L543.00 396.56 L543.20 396.44 L543.40 396.28 L543.60 396.06 L543.80 395.78 L544.00 395.42 L544.20 394.95 L544.40 394.37 L544.60 393.65 L544.80 392.77 L545.00 391.71 L545.20 390.45 L545.40 388.97 L545.60 387.25 L545.80 385.28 L546.00 383.05 L546.20 380.57 L546.40 377.83 L546.60 374.86 L546.80 371.68 L547.00 368.31 L547.20 364.81 L547.40 361.20 L547.60 357.55 L547.80 353.92 L548.00 350.36 L548.20 346.93 L548.40 343.69 L548.60 340.69 L548.80 337.99 L549.00 335.62 L549.20 333.60 L549.40 331.97 L549.60 330.72 L549.80 329.84 L550.00 329.32 L550.20 329.10 L550.30 329.08 L550.40 329.42 L550.60 330.35 L550.80 331.48 L551.00 332.77 L551.20 334.21 L551.40 335.77 L551.60 337.44 L551.80 339.21 L552.00 341.06 L552.20 342.98 L552.40 344.96 L552.60 346.98 L552.80 349.03 L553.00 351.10 L553.20 353.18 L553.40 355.25 L553.60 357.31 L553.80 359.33 L554.00 361.32 L554.20 363.26 L554.40 365.15 L554.60 366.97 L554.80 368.73 L555.00 370.42 L555.20 372.03 L555.40 373.57 L555.60 375.03 L555.80 376.41 L556.00 377.70 L556.20 378.93 L556.40 380.07 L556.60 381.14 L556.80 382.14 L557.00 383.07 L557.20 383.94 L557.40 384.74 L557.60 385.49 L557.80 386.18 L558.00 386.81 L558.20 387.41 L558.40 387.95 L558.60 388.46 L558.80 388.93 L559.00 389.37 L559.20 389.77 L559.40 390.15 L559.60 390.50 L559.80 390.83 L560.00 391.13 L560.20 391.42 L560.40 391.69 L560.60 391.94 L560.80 392.18 L561.00 392.40 L561.20 392.61 L561.40 392.81 L561.60 393.00 L561.80 393.18 L562.00 393.36 L562.20 393.52 L562.40 393.67 L562.60 393.82 L562.80 393.96 L563.00 394.10 L563.20 394.23 L563.40 394.35 L563.60 394.47 L563.80 394.58 L564.00 394.69 L564.20 394.79 L564.40 394.89 L564.60 394.98 L564.80 395.07 L565.00 395.16 L565.20 395.24 L565.40 395.32 L565.60 395.39 L565.80 395.47 L566.00 395.53 L566.20 395.60 L566.40 395.66 L566.60 395.72 L566.80 395.78 L567.00 395.84 L567.20 395.89 L567.40 395.94 L567.60 395.99 L567.80 396.04 L568.00 396.08 L568.20 396.12 L568.40 396.16 L568.60 396.20 L568.80 396.24 L569.00 396.27 L569.20 396.31 L569.40 396.34 L569.60 396.37 L569.80 396.40 L570.00 396.43 L570.20 396.45 L570.40 396.48 L570.60 396.50 L570.80 396.53 L571.00 396.55 L571.20 396.57 L571.40 396.59 L571.60 396.61 L571.80 396.63 L572.00 396.64 L572.20 396.66 L572.40 396.68 L572.60 396.69 L572.80 396.71 L573.00 396.72 L573.20 396.73 L573.40 396.75 L573.60 396.76 L573.80 396.77 L574.00 396.78 L574.20 396.79 L574.40 396.80 L574.60 396.81 L574.80 396.82 L575.00 396.83 L575.20 396.84 L575.40 396.85 L575.60 396.85 L575.80 396.86 L576.00 396.87 L576.20 396.87 L576.40 396.88 L576.60 396.89 L576.80 396.89 L577.00 396.90 L577.20 396.90 L577.40 396.91 L577.60 396.91 L577.80 396.91 L578.00 396.92 L578.20 396.92 L578.40 396.93 L578.60 396.93 L578.80 396.93 L579.00 396.94 L579.20 396.94 L579.40 396.94 L579.60 396.95 L579.80 396.95 L580.00 396.95 L580.20 396.95 L580.40 396.95 L580.60 396.95 L580.80 396.96 L581.00 396.96 L581.20 396.96 L581.40 396.95 L581.60 396.95 L581.80 396.95 L582.00 396.94 L582.20 396.93 L582.40 396.92 L582.60 396.90 L582.80 396.88 L583.00 396.85 L583.20 396.81 L583.40 396.76 L583.60 396.69 L583.80 396.61 L584.00 396.51 L584.20 396.39 L584.40 396.24 L584.60 396.06 L584.80 395.84 L585.00 395.58 L585.20 395.26 L585.40 394.89 L585.60 394.46 L585.80 393.95 L586.00 393.37 L586.20 392.71 L586.40 391.95 L586.60 391.10 L586.80 390.15 L587.00 389.09 L587.20 387.92 L587.40 386.64 L587.60 385.26 L587.80 383.76 L588.00 382.17 L588.20 380.48 L588.40 378.71 L588.60 376.87 L588.80 374.96 L589.00 373.02 L589.20 371.04 L589.40 369.06 L589.60 367.10 L589.80 365.16 L590.00 363.28 L590.20 361.48 L590.40 359.78 L590.60 358.18 L590.80 356.73 L591.00 355.42 L591.20 354.27 L591.40 353.29 L591.60 352.48 L591.80 351.86 L592.00 351.41 L592.20 351.13 L592.40 351.01 L592.50 351.00 L592.60 351.15 L592.80 351.59 L593.00 352.14 L593.20 352.79 L593.40 353.51 L593.60 354.30 L593.80 355.15 L594.00 356.05 L594.20 357.01 L594.40 358.01 L594.60 359.05 L594.80 360.13 L595.00 361.23 L595.20 362.36 L595.40 363.50 L595.60 364.66 L595.80 365.82 L596.00 366.99 L596.20 368.16 L596.40 369.32 L596.60 370.47 L596.80 371.61 L597.00 372.73 L597.20 373.83 L597.40 374.90 L597.60 375.95 L597.80 376.97 L598.00 377.95 L598.20 378.91 L598.40 379.83 L598.60 380.71 L598.80 381.56 L599.00 382.37 L599.20 383.15 L599.40 383.88 L599.60 384.59 L599.80 385.25 L600.00 385.88 L600.20 386.48 L600.40 387.05 L600.60 387.58 L600.80 388.08 L601.00 388.55 L601.20 389.00 L601.40 389.41 L601.60 389.80 L601.80 390.17 L602.00 390.52 L602.20 390.84 L602.40 391.15 L602.60 391.43 L602.80 391.70 L603.00 391.95 L603.20 392.19 L603.40 392.41 L603.60 392.62 L603.80 392.82 L604.00 393.00 L604.20 393.18 L604.40 393.35 L604.60 393.50 L604.80 393.65 L605.00 393.79 L605.20 393.93 L605.40 394.06 L605.60 394.18 L605.80 394.29 L606.00 394.40 L606.20 394.51 L606.40 394.61 L606.60 394.71 L606.80 394.80 L607.00 394.89 L607.20 394.97 L607.40 395.05 L607.60 395.13 L607.80 395.21 L608.00 395.28 L608.20 395.35 L608.40 395.41 L608.60 395.48 L608.80 395.54 L609.00 395.60 L609.20 395.65 L609.40 395.71 L609.60 395.76 L609.80 395.81 L610.00 395.86 L610.20 395.90 L610.40 395.95 L610.60 395.99 L610.80 396.03 L611.00 396.07 L611.20 396.11 L611.40 396.15 L611.60 396.18 L611.80 396.21 L612.00 396.25 L612.20 396.28 L612.40 396.31 L612.60 396.34 L612.80 396.36 L613.00 396.39 L613.20 396.42 L613.40 396.44 L613.60 396.46 L613.80 396.49 L614.00 396.51 L614.20 396.53 L614.40 396.55 L614.60 396.57 L614.80 396.59 L615.00 396.60 L615.20 396.62 L615.40 396.64 L615.60 396.65 L615.80 396.67 L616.00 396.68 L616.20 396.69 L616.40 396.71 L616.60 396.72 L616.80 396.73 L617.00 396.74 L617.20 396.75 L617.40 396.77 L617.60 396.78 L617.80 396.79 L618.00 396.79 L618.20 396.80 L618.40 396.81 L618.60 396.82 L618.80 396.83 L619.00 396.84 L619.20 396.84 L619.40 396.85 L619.60 396.86 L619.80 396.86 L620.00 396.87 L620.20 396.88 L620.40 396.88 L620.60 396.89 L620.80 396.89 L621.00 396.90 L621.20 396.91 L621.40 396.91 L621.60 396.92 L621.80 396.92 L622.00 396.93 L622.20 396.93 L622.40 396.94 L622.60 396.94 L622.80 396.94 L623.00 396.95 L623.20 396.95 L623.40 396.96 L623.60 396.96 L623.80 396.96 L624.00 396.97 L624.20 396.97 L624.40 396.97 L624.60 396.98 L624.80 396.98 L625.00 396.98 L625.20 396.98 L625.40 396.99 L625.60 396.99 L625.80 396.99 L626.00 397.00 L626.20 397.00 L626.40 397.00 L626.60 397.00 L626.80 397.00 L627.00 397.01 L627.20 397.01 L627.40 397.01 L627.60 397.01 L627.80 397.02 L628.00 397.02 L628.20 397.02 L628.40 397.02 L628.60 397.02 L628.80 397.02 L629.00 397.03 L629.20 397.03 L629.40 397.03 L629.60 397.03 L629.80 397.03 L630.00 397.03 L630.20 397.04 L630.40 397.04 L630.60 397.04 L630.80 397.04 L631.00 397.04 L631.20 397.04 L631.40 397.04 L631.60 397.04 L631.80 397.04 L632.00 397.04 L632.20 397.04 L632.40 397.04 L632.60 397.04 L632.80 397.03 L633.00 397.03 L633.20 397.02 L633.40 397.02 L633.60 397.01 L633.80 397.00 L634.00 396.98 L634.20 396.97 L634.40 396.95 L634.60 396.92 L634.80 396.89 L635.00 396.86 L635.20 396.81 L635.40 396.76 L635.60 396.70 L635.80 396.63 L636.00 396.54 L636.20 396.45 L636.40 396.34 L636.60 396.21 L636.80 396.06 L637.00 395.89 L637.20 395.70 L637.40 395.48 L637.60 395.24 L637.80 394.97 L638.00 394.66 L638.20 394.32 L638.40 393.95 L638.60 393.54 L638.80 393.10 L639.00 392.61 L639.20 392.08 L639.40 391.51 L639.60 390.90 L639.80 390.25 L640.00 389.55 L640.20 388.82 L640.40 388.05 L640.60 387.24 L640.80 386.39 L641.00 385.52 L641.20 384.62 L641.40 383.69 L641.60 382.75 L641.80 381.79 L642.00 380.83 L642.20 379.86 L642.40 378.90 L642.60 377.95 L642.80 377.01 L643.00 376.10 L643.20 375.21 L643.40 374.36 L643.60 373.56 L643.80 372.79 L644.00 372.08 L644.20 371.43 L644.40 370.83 L644.60 370.30 L644.80 369.83 L645.00 369.43 L645.20 369.10 L645.40 368.84 L645.60 368.64 L645.80 368.51 L646.00 368.44 L646.20 368.42 L646.40 368.57 L646.60 368.79 L646.80 369.07 L647.00 369.38 L647.20 369.73 L647.40 370.12 L647.60 370.54 L647.80 370.98 L648.00 371.45 L648.20 371.95 L648.40 372.47 L648.60 373.01 L648.80 373.56 L649.00 374.13 L649.20 374.71 L649.40 375.31 L649.60 375.91 L649.80 376.52 L650.00 377.14 L650.20 377.75 L650.40 378.37 L650.60 378.99 L650.80 379.61 L651.00 380.22 L651.20 380.83 L651.40 381.43 L651.60 382.02 L651.80 382.60 L652.00 383.18 L652.20 383.74 L652.40 384.28 L652.60 384.81 L652.80 385.33 L653.00 385.84 L653.20 386.32 L653.40 386.80 L653.60 387.25 L653.80 387.69 L654.00 388.12 L654.20 388.52 L654.40 388.92 L654.60 389.29 L654.80 389.65 L655.00 389.99 L655.20 390.32 L655.40 390.63 L655.60 390.93 L655.80 391.21 L656.00 391.48 L656.20 391.74 L656.40 391.98 L656.60 392.21 L656.80 392.43 L657.00 392.64 L657.20 392.84 L657.40 393.03 L657.60 393.21 L657.80 393.38 L658.00 393.54 L658.20 393.69 L658.40 393.83 L658.60 393.97 L658.80 394.10 L659.00 394.23 L659.20 394.34 L659.40 394.46 L659.60 394.56 L659.80 394.66 L660.00 394.76 L660.20 394.85 L660.40 394.94 L660.60 395.03 L660.80 395.11 L661.00 395.19 L661.20 395.26 L661.40 395.33 L661.60 395.40 L661.80 395.47 L662.00 395.53 L662.20 395.59 L662.40 395.65 L662.60 395.70 L662.80 395.76 L663.00 395.81 L663.20 395.86 L663.40 395.91 L663.60 395.96 L663.80 396.00 L664.00 396.05 L664.20 396.09 L664.40 396.13 L664.60 396.17 L664.80 396.21 L665.00 396.24 L665.20 396.28 L665.40 396.31 L665.60 396.35 L665.80 396.38 L666.00 396.41 L666.20 396.44 L666.40 396.47 L666.60 396.50 L666.80 396.52 L667.00 396.55 L667.20 396.57 L667.40 396.60 L667.60 396.62 L667.80 396.64 L668.00 396.67 L668.20 396.69 L668.40 396.71 L668.60 396.73 L668.80 396.75 L669.00 396.77 L669.20 396.79 L669.40 396.80 L669.60 396.82 L669.80 396.84 L670.00 396.85 L670.20 396.87 L670.40 396.88 L670.60 396.90 L670.80 396.91 L671.00 396.92 L671.20 396.94 L671.40 396.95 L671.60 396.96 L671.80 396.97 L672.00 396.98 L672.20 396.99 L672.40 397.00 L672.60 397.02 L672.80 397.03 L673.00 397.03 L673.20 397.04 L673.40 397.05 L673.60 397.06 L673.80 397.07 L674.00 397.08 L674.20 397.09 L674.40 397.09 L674.60 397.10 L674.80 397.11 L675.00 397.11 L675.20 397.12 L675.40 397.13 L675.60 397.13 L675.80 397.14 L676.00 397.15 L676.20 397.15 L676.40 397.16 L676.60 397.16 L676.80 397.17 L677.00 397.17 L677.20 397.18 L677.40 397.18 L677.60 397.19 L677.80 397.19 L678.00 397.19 L678.20 397.20 L678.40 397.20 L678.60 397.21 L678.80 397.21 L679.00 397.21 L679.20 397.22 L679.40 397.22 L679.60 397.22 L679.80 397.23 L680.00 397.23 L680.20 397.23 L680.40 397.24 L680.60 397.24 L680.80 397.24 L681.00 397.24 L681.20 397.25 L681.40 397.25 L681.60 397.25 L681.80 397.25 L682.00 397.26 L682.20 397.26 L682.40 397.26 L682.60 397.26 L682.80 397.27 L683.00 397.27 L683.20 397.27 L683.40 397.27 L683.60 397.27 L683.80 397.28 L684.00 397.28 L684.20 397.28 L684.40 397.28 L684.60 397.28 L684.80 397.29 L685.00 397.29 L685.20 397.29 L685.40 397.29 L685.60 397.29 L685.80 397.29 L686.00 397.30 L686.20 397.30 L686.40 397.30 L686.60 397.30 L686.80 397.30 L687.00 397.30 L687.20 397.30 L687.40 397.31 L687.60 397.31 L687.80 397.31 L688.00 397.31 L688.20 397.31 L688.40 397.31 L688.60 397.31 L688.80 397.32 L689.00 397.32 L689.20 397.32 L689.40 397.32 L689.60 397.32 L689.80 397.32 L690.00 397.32 L690.20 397.32 L690.40 397.33 L690.60 397.33 L690.80 397.33 L691.00 397.33 L691.20 397.33 L691.40 397.33 L691.60 397.33 L691.80 397.33 L692.00 397.33 L692.20 397.34 L692.40 397.34 L692.60 397.34 L692.80 397.34 L693.00 397.34 L693.20 397.34 L693.40 397.34 L693.60 397.34 L693.80 397.34 L694.00 397.35 L694.20 397.35 L694.40 397.35 L694.60 397.35 L694.80 397.35 L695.00 397.35 L695.20 397.35 L695.40 397.35 L695.60 397.35 L695.80 397.36 L696.00 397.36 L696.20 397.36 L696.40 397.36 L696.60 397.36 L696.80 397.36 L697.00 397.36 L697.20 397.36 L697.40 397.36 L697.60 397.36 L697.80 397.37 L698.00 397.37 L698.20 397.37 L698.40 397.37 L698.60 397.37 L698.80 397.37 L699.00 397.37 L699.20 397.37 L699.40 397.37 L699.60 397.37 L699.80 397.37 L700.00 397.38 L700.20 397.38 L700.40 397.38 L700.60 397.38 L700.80 397.38 L701.00 397.38 L701.20 397.38 L701.40 397.38 L701.60 397.38 L701.80 397.38 L702.00 397.39 L702.20 397.39 L702.40 397.39 L702.60 397.39 L702.80 397.39 L703.00 397.39 L703.20 397.39 L703.40 397.39 L703.60 397.39 L703.80 397.39 L704.00 397.39 L704.20 397.40 L704.40 397.40 L704.60 397.40 L704.80 397.40 L705.00 397.40"/>
<path d="M737.00 403.00 L737.20 403.00 L737.40 403.00 L737.60 403.00 L737.80 403.00 L738.00 403.00 L738.20 403.00 L738.40 403.00 L738.60 403.00 L738.80 403.00 L739.00 403.00 L739.20 403.00 L739.40 403.00 L739.60 403.00 L739.80 403.00 L740.00 403.00 L740.20 403.00 L740.40 403.00 L740.60 403.00 L740.80 403.00 L741.00 403.00 L741.20 403.00 L741.40 403.00 L741.60 403.00 L741.80 403.00 L742.00 403.00 L742.20 403.00 L742.40 403.00 L742.60 403.00 L742.80 403.00 L743.00 403.00 L743.20 403.00 L743.40 403.00 L743.60 403.00 L743.80 403.00 L744.00 403.00 L744.20 403.00 L744.40 403.00 L744.60 403.00 L744.80 403.00 L745.00 403.00 L745.20 403.00 L745.40 403.00 L745.60 403.00 L745.80 403.00 L746.00 403.00 L746.20 403.00 L746.40 403.00 L746.60 403.00 L746.80 403.00 L747.00 403.00 L747.20 403.00 L747.40 403.00 L747.60 403.00 L747.80 403.00 L748.00 403.00 L748.20 403.00 L748.40 403.00 L748.60 403.00 L748.80 403.00 L749.00 403.00 L749.20 403.00 L749.40 403.00 L749.60 403.00 L749.80 403.00 L750.00 403.00 L750.20 403.00 L750.40 403.00 L750.60 403.00 L750.80 403.00 L751.00 403.00 L751.20 403.00 L751.40 403.00 L751.60 403.00 L751.80 403.00 L752.00 403.00 L752.20 403.00 L752.40 403.00 L752.60 403.00 L752.80 403.00 L753.00 403.00 L753.20 403.00 L753.40 403.00 L753.60 403.00 L753.80 403.00 L754.00 403.00 L754.20 403.00 L754.40 403.00 L754.60 403.00 L754.80 403.00 L755.00 403.00 L755.20 403.00 L755.40 403.00 L755.60 403.00 L755.80 403.00 L756.00 403.00 L756.20 403.00 L756.40 403.00 L756.60 403.00 L756.80 403.00 L757.00 403.00 L757.20 403.00 L757.40 403.00 L757.60 403.00 L757.80 403.00 L758.00 403.00 L758.20 403.00 L758.40 402.99 L758.60 402.98 L758.80 402.97 L759.00 402.95 L759.20 402.92 L759.40 402.87 L759.60 402.80 L759.80 402.71 L760.00 402.58 L760.20 402.42 L760.40 402.23 L760.60 402.00 L760.80 401.75 L761.00 401.48 L761.20 401.20 L761.40 400.95 L761.60 400.74 L761.80 400.58 L762.00 400.49 L762.10 400.47 L762.20 400.47 L762.40 400.50 L762.60 400.57 L762.80 400.67 L763.00 400.80 L763.20 400.96 L763.40 401.12 L763.60 401.30 L763.80 401.48 L764.00 401.65 L764.20 401.81 L764.40 401.96 L764.60 402.09 L764.80 402.21 L765.00 402.30 L765.20 402.38 L765.40 402.44 L765.60 402.49 L765.80 402.52 L766.00 402.55 L766.20 402.56 L766.40 402.57 L766.60 402.57 L766.80 402.57 L767.00 402.57 L767.20 402.56 L767.40 402.55 L767.60 402.54 L767.80 402.53 L768.00 402.52 L768.20 402.51 L768.40 402.50 L768.60 402.48 L768.80 402.47 L769.00 402.46 L769.20 402.46 L769.40 402.45 L769.60 402.44 L769.80 402.44 L770.00 402.44 L770.20 402.43 L770.40 402.43 L770.60 402.43 L770.80 402.42 L771.00 402.41 L771.20 402.40 L771.40 402.36 L771.60 402.29 L771.80 402.17 L772.00 401.95 L772.20 401.59 L772.40 401.04 L772.60 400.21 L772.80 399.06 L773.00 397.55 L773.20 395.69 L773.40 393.61 L773.60 391.52 L773.80 389.77 L774.00 388.91 L774.20 389.29 L774.40 390.35 L774.60 391.93 L774.80 393.81 L775.00 395.74 L775.20 397.54 L775.40 399.06 L775.60 400.25 L775.80 401.12 L776.00 401.71 L776.20 402.09 L776.40 402.31 L776.60 402.44 L776.80 402.50 L777.00 402.53 L777.20 402.54 L777.40 402.54 L777.60 402.53 L777.80 402.52 L778.00 402.51 L778.20 402.50 L778.40 402.48 L778.60 402.46 L778.80 402.45 L779.00 402.43 L779.20 402.41 L779.40 402.40 L779.60 402.38 L779.80 402.36 L780.00 402.35 L780.20 402.33 L780.40 402.31 L780.60 402.30 L780.80 402.28 L781.00 402.26 L781.20 402.24 L781.40 402.23 L781.60 402.21 L781.80 402.19 L782.00 402.18 L782.20 402.16 L782.40 402.14 L782.60 402.13 L782.80 402.11 L783.00 402.09 L783.20 402.08 L783.40 402.06 L783.60 402.04 L783.80 402.02 L784.00 402.01 L784.20 401.99 L784.40 401.97 L784.60 401.96 L784.80 401.94 L785.00 401.92 L785.20 401.91 L785.40 401.89 L785.60 401.87 L785.80 401.86 L786.00 401.84 L786.20 401.82 L786.40 401.80 L786.60 401.79 L786.80 401.77 L787.00 401.75 L787.20 401.74 L787.40 401.72 L787.60 401.70 L787.80 401.68 L788.00 401.67 L788.20 401.64 L788.40 401.62 L788.60 401.59 L788.80 401.56 L789.00 401.53 L789.20 401.48 L789.40 401.41 L789.60 401.33 L789.80 401.22 L790.00 401.09 L790.20 400.95 L790.40 400.79 L790.60 400.63 L790.80 400.48 L791.00 400.35 L791.20 400.26 L791.40 400.22 L791.50 400.22 L791.60 400.24 L791.80 400.31 L792.00 400.43 L792.20 400.58 L792.40 400.75 L792.60 400.93 L792.80 401.11 L793.00 401.28 L793.20 401.42 L793.40 401.54 L793.60 401.63 L793.80 401.71 L794.00 401.76 L794.20 401.81 L794.40 401.84 L794.60 401.87 L794.80 401.89 L795.00 401.90 L795.20 401.92 L795.40 401.92 L795.60 401.93 L795.80 401.93 L796.00 401.94 L796.20 401.93 L796.40 401.92 L796.60 401.89 L796.80 401.86 L797.00 401.79 L797.20 401.69 L797.40 401.52 L797.60 401.27 L797.80 400.89 L798.00 400.35 L798.20 399.58 L798.40 398.51 L798.60 397.09 L798.80 395.27 L799.00 392.99 L799.20 390.26 L799.40 387.12 L799.60 383.69 L799.80 380.15 L800.00 376.75 L800.20 373.79 L800.40 371.64 L800.60 370.72 L800.80 371.45 L801.00 373.02 L801.20 375.30 L801.40 378.11 L801.60 381.23 L801.80 384.43 L802.00 387.51 L802.20 390.31 L802.40 392.72 L802.60 394.67 L802.80 396.15 L803.00 397.18 L803.20 397.81 L803.40 398.07 L803.60 398.05 L803.80 397.79 L804.00 397.37 L804.20 396.86 L804.40 396.33 L804.60 395.84 L804.80 395.44 L805.00 395.19 L805.20 395.12 L805.40 395.20 L805.60 395.41 L805.80 395.72 L806.00 396.13 L806.20 396.61 L806.40 397.13 L806.60 397.66 L806.80 398.20 L807.00 398.70 L807.20 399.17 L807.40 399.58 L807.60 399.93 L807.80 400.23 L808.00 400.47 L808.20 400.66 L808.40 400.80 L808.60 400.91 L808.80 400.99 L809.00 401.04 L809.20 401.08 L809.40 401.10 L809.60 401.12 L809.80 401.13 L810.00 401.13 L810.20 401.13 L810.40 401.13 L810.60 401.12 L810.80 401.12 L811.00 401.12 L811.20 401.11 L811.40 401.11 L811.60 401.10 L811.80 401.10 L812.00 401.09 L812.20 401.08 L812.40 401.08 L812.60 401.07 L812.80 401.07 L813.00 401.06 L813.20 401.05 L813.40 401.05 L813.60 401.04 L813.80 401.03 L814.00 401.02 L814.20 401.00 L814.40 400.98 L814.60 400.96 L814.80 400.93 L815.00 400.88 L815.20 400.81 L815.40 400.72 L815.60 400.58 L815.80 400.39 L816.00 400.14 L816.20 399.78 L816.40 399.30 L816.60 398.65 L816.80 397.79 L817.00 396.66 L817.20 395.20 L817.40 393.33 L817.60 390.98 L817.80 388.04 L818.00 384.44 L818.20 380.07 L818.40 374.84 L818.60 368.68 L818.80 361.52 L819.00 353.32 L819.20 344.07 L819.40 333.80 L819.60 322.57 L819.80 310.51 L820.00 297.77 L820.20 284.59 L820.40 271.21 L820.60 257.95 L820.80 245.12 L821.00 233.08 L821.20 222.16 L821.40 212.70 L821.60 205.00 L821.80 199.30 L822.00 195.80 L822.20 194.62 L822.40 197.04 L822.60 201.19 L822.80 206.99 L823.00 214.31 L823.20 222.96 L823.40 232.74 L823.60 243.42 L823.80 254.72 L824.00 266.41 L824.20 278.24 L824.40 289.96 L824.60 301.38 L824.80 312.33 L825.00 322.65 L825.20 332.24 L825.40 341.03 L825.60 348.98 L825.80 356.08 L826.00 362.34 L826.20 367.80 L826.40 372.52 L826.60 376.55 L826.80 379.96 L827.00 382.82 L827.20 385.21 L827.40 387.19 L827.60 388.83 L827.80 390.17 L828.00 391.28 L828.20 392.20 L828.40 392.96 L828.60 393.60 L828.80 394.13 L829.00 394.59 L829.20 394.98 L829.40 395.33 L829.60 395.64 L829.80 395.91 L830.00 396.16 L830.20 396.39 L830.40 396.61 L830.60 396.81 L830.80 396.99 L831.00 397.17 L831.20 397.33 L831.40 397.49 L831.60 397.63 L831.80 397.77 L832.00 397.91 L832.20 398.03 L832.40 398.15 L832.60 398.26 L832.80 398.37 L833.00 398.47 L833.20 398.57 L833.40 398.66 L833.60 398.75 L833.80 398.83 L834.00 398.91 L834.20 398.98 L834.40 399.05 L834.60 399.11 L834.80 399.17 L835.00 399.22 L835.20 399.27 L835.40 399.31 L835.60 399.35 L835.80 399.37 L836.00 399.39 L836.20 399.39 L836.40 399.38 L836.60 399.37 L836.80 399.34 L837.00 399.30 L837.20 399.26 L837.40 399.22 L837.60 399.18 L837.80 399.14 L838.00 399.12 L838.20 399.11 L838.40 399.11 L838.50 399.12 L838.60 399.13 L838.80 399.18 L839.00 399.23 L839.20 399.31 L839.40 399.39 L839.60 399.48 L839.80 399.56 L840.00 399.65 L840.20 399.73 L840.40 399.80 L840.60 399.86 L840.80 399.90 L841.00 399.92 L841.20 399.93 L841.40 399.91 L841.60 399.88 L841.80 399.82 L842.00 399.75 L842.20 399.65 L842.40 399.54 L842.60 399.42 L842.80 399.30 L843.00 399.18 L843.20 399.06 L843.40 398.96 L843.60 398.89 L843.80 398.84 L844.00 398.83 L844.20 398.85 L844.40 398.90 L844.60 398.98 L844.80 399.09 L845.00 399.21 L845.20 399.34 L845.40 399.47 L845.60 399.60 L845.80 399.71 L846.00 399.81 L846.20 399.89 L846.40 399.95 L846.60 399.98 L846.80 399.99 L847.00 399.97 L847.20 399.93 L847.40 399.85 L847.60 399.73 L847.80 399.56 L848.00 399.33 L848.20 399.03 L848.40 398.64 L848.60 398.13 L848.80 397.49 L849.00 396.67 L849.20 395.65 L849.40 394.38 L849.60 392.83 L849.80 390.93 L850.00 388.64 L850.20 385.89 L850.40 382.63 L850.60 378.80 L850.80 374.33 L851.00 369.17 L851.20 363.26 L851.40 356.55 L851.60 349.01 L851.80 340.62 L852.00 331.36 L852.20 321.26 L852.40 310.33 L852.60 298.63 L852.80 286.24 L853.00 273.26 L853.20 259.82 L853.40 246.05 L853.60 232.13 L853.80 218.23 L854.00 204.55 L854.20 191.29 L854.40 178.65 L854.60 166.83 L854.80 156.01 L855.00 146.38 L855.20 138.07 L855.40 131.22 L855.60 125.90 L855.80 122.16 L856.00 120.00 L856.20 119.34 L856.40 121.49 L856.60 124.89 L856.80 129.31 L857.00 134.67 L857.20 140.88 L857.40 147.88 L857.60 155.58 L857.80 163.91 L858.00 172.76 L858.20 182.06 L858.40 191.71 L858.60 201.62 L858.80 211.69 L859.00 221.84 L859.20 231.98 L859.40 242.03 L859.60 251.92 L859.80 261.58 L860.00 270.96 L860.20 279.99 L860.40 288.65 L860.60 296.90 L860.80 304.72 L861.00 312.08 L861.20 318.98 L861.40 325.41 L861.60 331.39 L861.80 336.91 L862.00 342.00 L862.20 346.66 L862.40 350.92 L862.60 354.80 L862.80 358.33 L863.00 361.53 L863.20 364.43 L863.40 367.05 L863.60 369.41 L863.80 371.54 L864.00 373.47 L864.20 375.21 L864.40 376.78 L864.60 378.21 L864.80 379.50 L865.00 380.68 L865.20 381.76 L865.40 382.74 L865.60 383.65 L865.80 384.48 L866.00 385.26 L866.20 385.98 L866.40 386.65 L866.60 387.28 L866.80 387.88 L867.00 388.43 L867.20 388.96 L867.40 389.46 L867.60 389.94 L867.80 390.39 L868.00 390.82 L868.20 391.23 L868.40 391.62 L868.60 391.99 L868.80 392.35 L869.00 392.70 L869.20 393.03 L869.40 393.34 L869.60 393.64 L869.80 393.93 L870.00 394.21 L870.20 394.48 L870.40 394.73 L870.60 394.98 L870.80 395.21 L871.00 395.44 L871.20 395.66 L871.40 395.86 L871.60 396.06 L871.80 396.25 L872.00 396.44 L872.20 396.61 L872.40 396.78 L872.60 396.94 L872.80 397.10 L873.00 397.24 L873.20 397.39 L873.40 397.52 L873.60 397.65 L873.80 397.78 L874.00 397.90 L874.20 398.01 L874.40 398.12 L874.60 398.22 L874.80 398.32 L875.00 398.41 L875.20 398.50 L875.40 398.59 L875.60 398.66 L875.80 398.74 L876.00 398.80 L876.20 398.86 L876.40 398.91 L876.60 398.95 L876.80 398.98 L877.00 399.00 L877.20 399.00 L877.40 398.99 L877.60 398.95 L877.80 398.88 L878.00 398.79 L878.20 398.66 L878.40 398.49 L878.60 398.27 L878.80 398.00 L879.00 397.66 L879.20 397.25 L879.40 396.75 L879.60 396.17 L879.80 395.48 L880.00 394.68 L880.20 393.76 L880.40 392.70 L880.60 391.51 L880.80 390.17 L881.00 388.68 L881.20 387.03 L881.40 385.23 L881.60 383.27 L881.80 381.15 L882.00 378.89 L882.20 376.49 L882.40 373.98 L882.60 371.35 L882.80 368.64 L883.00 365.87 L883.20 363.06 L883.40 360.23 L883.60 357.43 L883.80 354.67 L884.00 352.00 L884.20 349.43 L884.40 347.00 L884.60 344.73 L884.80 342.66 L885.00 340.79 L885.20 339.16 L885.40 337.76 L885.60 336.63 L885.80 335.74 L886.00 335.11 L886.20 334.73 L886.40 334.56 L886.50 334.55 L886.60 334.88 L886.80 335.84 L887.00 337.04 L887.20 338.42 L887.40 339.96 L887.60 341.63 L887.80 343.42 L888.00 345.31 L888.20 347.28 L888.40 349.32 L888.60 351.42 L888.80 353.55 L889.00 355.71 L889.20 357.88 L889.40 360.04 L889.60 362.19 L889.80 364.31 L890.00 366.40 L890.20 368.43 L890.40 370.41 L890.60 372.32 L890.80 374.16 L891.00 375.93 L891.20 377.62 L891.40 379.22 L891.60 380.73 L891.80 382.17 L892.00 383.51 L892.20 384.77 L892.40 385.95 L892.60 387.05 L892.80 388.07 L893.00 389.02 L893.20 389.89 L893.40 390.70 L893.60 391.45 L893.80 392.14 L894.00 392.77 L894.20 393.35 L894.40 393.88 L894.60 394.37 L894.80 394.83 L895.00 395.24 L895.20 395.62 L895.40 395.98 L895.60 396.30 L895.80 396.60 L896.00 396.88 L896.20 397.14 L896.40 397.38 L896.60 397.60 L896.80 397.81 L897.00 398.00 L897.20 398.18 L897.40 398.35 L897.60 398.51 L897.80 398.66 L898.00 398.80 L898.20 398.94 L898.40 399.06 L898.60 399.18 L898.80 399.29 L899.00 399.40 L899.20 399.50 L899.40 399.59 L899.60 399.68 L899.80 399.77 L900.00 399.85 L900.20 399.92 L900.40 399.99 L900.60 400.06 L900.80 400.13 L901.00 400.19 L901.20 400.25 L901.40 400.30 L901.60 400.35 L901.80 400.40 L902.00 400.45 L902.20 400.49 L902.40 400.53 L902.60 400.56 L902.80 400.59 L903.00 400.61 L903.20 400.62 L903.40 400.62 L903.60 400.61 L903.80 400.58 L904.00 400.53 L904.20 400.44 L904.40 400.32 L904.60 400.16 L904.80 399.94 L905.00 399.64 L905.20 399.26 L905.40 398.78 L905.60 398.18 L905.80 397.44 L906.00 396.54 L906.20 395.45 L906.40 394.15 L906.60 392.61 L906.80 390.83 L907.00 388.78 L907.20 386.44 L907.40 383.81 L907.60 380.88 L907.80 377.66 L908.00 374.16 L908.20 370.39 L908.40 366.39 L908.60 362.19 L908.80 357.85 L909.00 353.41 L909.20 348.94 L909.40 344.49 L909.60 340.15 L909.80 335.97 L910.00 332.02 L910.20 328.37 L910.40 325.08 L910.60 322.19 L910.80 319.75 L911.00 317.78 L911.20 316.29 L911.40 315.28 L911.60 314.74 L911.80 314.59 L912.00 315.41 L912.20 316.85 L912.40 318.75 L912.60 321.03 L912.80 323.66 L913.00 326.56 L913.20 329.69 L913.40 332.99 L913.60 336.41 L913.80 339.90 L914.00 343.40 L914.20 346.88 L914.40 350.30 L914.60 353.61 L914.80 356.80 L915.00 359.84 L915.20 362.71 L915.40 365.41 L915.60 367.92 L915.80 370.25 L916.00 372.41 L916.20 374.38 L916.40 376.20 L916.60 377.86 L916.80 379.38 L917.00 380.77 L917.20 382.05 L917.40 383.22 L917.60 384.29 L917.80 385.29 L918.00 386.21 L918.20 387.06 L918.40 387.85 L918.60 388.60 L918.80 389.29 L919.00 389.95 L919.20 390.57 L919.40 391.16 L919.60 391.71 L919.80 392.24 L920.00 392.74 L920.20 393.22 L920.40 393.67 L920.60 394.10 L920.80 394.51 L921.00 394.90 L921.20 395.27 L921.40 395.63 L921.60 395.96 L921.80 396.28 L922.00 396.59 L922.20 396.88 L922.40 397.16 L922.60 397.42 L922.80 397.67 L923.00 397.90 L923.20 398.13 L923.40 398.34 L923.60 398.54 L923.80 398.73 L924.00 398.92 L924.20 399.09 L924.40 399.25 L924.60 399.40 L924.80 399.55 L925.00 399.69 L925.20 399.82 L925.40 399.94 L925.60 400.06 L925.80 400.17 L926.00 400.27 L926.20 400.37 L926.40 400.46 L926.60 400.55 L926.80 400.63 L927.00 400.71 L927.20 400.78 L927.40 400.85 L927.60 400.92 L927.80 400.98 L928.00 401.03 L928.20 401.09 L928.40 401.14 L928.60 401.19 L928.80 401.24 L929.00 401.28 L929.20 401.32 L929.40 401.36 L929.60 401.40 L929.80 401.43 L930.00 401.46 L930.20 401.49 L930.40 401.52 L930.60 401.55 L930.80 401.57 L931.00 401.60 L931.20 401.62 L931.40 401.64 L931.60 401.66 L931.80 401.68 L932.00 401.70 L932.20 401.72 L932.40 401.74 L932.60 401.75 L932.80 401.77 L933.00 401.78 L933.20 401.79 L933.40 401.81 L933.60 401.82 L933.80 401.83 L934.00 401.84 L934.20 401.85 L934.40 401.86 L934.60 401.87 L934.80 401.88 L935.00 401.89 L935.20 401.90 L935.40 401.90 L935.60 401.91 L935.80 401.92 L936.00 401.93 L936.20 401.93 L936.40 401.94 L936.60 401.95 L936.80 401.95 L937.00 401.96 L937.20 401.96 L937.40 401.97 L937.60 401.97 L937.80 401.98 L938.00 401.98 L938.20 401.99 L938.40 401.99 L938.60 402.00 L938.80 402.00 L939.00 402.01 L939.20 402.01 L939.40 402.02 L939.60 402.02 L939.80 402.02 L940.00 402.03 L940.20 402.03 L940.40 402.04 L940.60 402.04 L940.80 402.04 L941.00 402.05 L941.20 402.05 L941.40 402.06 L941.60 402.06 L941.80 402.06 L942.00 402.07 L942.20 402.07 L942.40 402.07 L942.60 402.08 L942.80 402.08 L943.00 402.08 L943.20 402.09 L943.40 402.09 L943.60 402.09 L943.80 402.10 L944.00 402.10 L944.20 402.11 L944.40 402.11 L944.60 402.11 L944.80 402.12 L945.00 402.12 L945.20 402.12 L945.40 402.13 L945.60 402.13 L945.80 402.13 L946.00 402.13 L946.20 402.14 L946.40 402.14 L946.60 402.14 L946.80 402.15 L947.00 402.15 L947.20 402.15 L947.40 402.16 L947.60 402.16 L947.80 402.16 L948.00 402.17 L948.20 402.17 L948.40 402.17 L948.60 402.18 L948.80 402.18 L949.00 402.18 L949.20 402.19 L949.40 402.19 L949.60 402.19 L949.80 402.20 L950.00 402.20 L950.20 402.20 L950.40 402.20 L950.60 402.21 L950.80 402.21 L951.00 402.21 L951.20 402.21 L951.40 402.22 L951.60 402.22 L951.80 402.22 L952.00 402.22 L952.20 402.22 L952.40 402.22 L952.60 402.22 L952.80 402.22 L953.00 402.21 L953.20 402.21 L953.40 402.20 L953.60 402.20 L953.80 402.19 L954.00 402.18 L954.20 402.16 L954.40 402.15 L954.60 402.13 L954.80 402.11 L955.00 402.09 L955.20 402.06 L955.40 402.03 L955.60 402.00 L955.80 401.96 L956.00 401.92 L956.20 401.87 L956.40 401.82 L956.60 401.76 L956.80 401.70 L957.00 401.63 L957.20 401.56 L957.40 401.47 L957.60 401.38 L957.80 401.29 L958.00 401.18 L958.20 401.07 L958.40 400.96 L958.60 400.83 L958.80 400.70 L959.00 400.56 L959.20 400.41 L959.40 400.26 L959.60 400.10 L959.80 399.93 L960.00 399.76 L960.20 399.59 L960.40 399.41 L960.60 399.23 L960.80 399.04 L961.00 398.86 L961.20 398.67 L961.40 398.48 L961.60 398.30 L961.80 398.12 L962.00 397.94 L962.20 397.77 L962.40 397.60 L962.60 397.45 L962.80 397.30 L963.00 397.16 L963.20 397.03 L963.40 396.91 L963.60 396.81 L963.80 396.72 L964.00 396.64 L964.20 396.58 L964.40 396.54 L964.60 396.51 L964.80 396.50 L964.90 396.50 L965.00 396.50 L965.20 396.51 L965.40 396.54 L965.60 396.57 L965.80 396.61 L966.00 396.66 L966.20 396.72 L966.40 396.78 L966.60 396.86 L966.80 396.94 L967.00 397.03 L967.20 397.13 L967.40 397.23 L967.60 397.34 L967.80 397.45 L968.00 397.57 L968.20 397.70 L968.40 397.83 L968.60 397.96 L968.80 398.10 L969.00 398.24 L969.20 398.38 L969.40 398.53 L969.60 398.67 L969.80 398.82 L970.00 398.96 L970.20 399.11 L970.40 399.26 L970.60 399.40 L970.80 399.55 L971.00 399.69 L971.20 399.83 L971.40 399.97 L971.60 400.10 L971.80 400.24 L972.00 400.37 L972.20 400.49 L972.40 400.62 L972.60 400.74 L972.80 400.85 L973.00 400.96 L973.20 401.07 L973.40 401.18 L973.60 401.27 L973.80 401.37 L974.00 401.46 L974.20 401.55 L974.40 401.63 L974.60 401.71 L974.80 401.79 L975.00 401.86 L975.20 401.93 L975.40 401.99 L975.60 402.05 L975.80 402.11 L976.00 402.16 L976.20 402.21 L976.40 402.26 L976.60 402.30 L976.80 402.34 L977.00 402.38 L977.20 402.42 L977.40 402.45 L977.60 402.48 L977.80 402.51 L978.00 402.54 L978.20 402.56 L978.40 402.59 L978.60 402.61 L978.80 402.63 L979.00 402.65 L979.20 402.67 L979.40 402.68 L979.60 402.70 L979.80 402.71 L980.00 402.73 L980.20 402.74 L980.40 402.75 L980.60 402.76 L980.80 402.77 L981.00 402.78 L981.20 402.79 L981.40 402.80 L981.60 402.80 L981.80 402.81 L982.00 402.82 L982.20 402.83 L982.40 402.83 L982.60 402.84 L982.80 402.84 L983.00 402.85 L983.20 402.85 L983.40 402.86 L983.60 402.86 L983.80 402.87 L984.00 402.87 L984.20 402.88 L984.40 402.88 L984.60 402.88 L984.80 402.89 L985.00 402.89 L985.20 402.89 L985.40 402.90 L985.60 402.90 L985.80 402.90 L986.00 402.90 L986.20 402.90 L986.40 402.90 L986.60 402.90 L986.80 402.91 L987.00 402.91 L987.20 402.91 L987.40 402.91 L987.60 402.91 L987.80 402.91 L988.00 402.91 L988.20 402.91 L988.40 402.91 L988.60 402.91 L988.80 402.91 L989.00 402.91 L989.20 402.91 L989.40 402.91 L989.60 402.91 L989.80 402.91 L990.00 402.92 L990.20 402.92 L990.40 402.92 L990.60 402.92 L990.80 402.92 L991.00 402.92 L991.20 402.92 L991.40 402.92 L991.60 402.92 L991.80 402.92 L992.00 402.92 L992.20 402.92 L992.40 402.92 L992.60 402.92 L992.80 402.92 L993.00 402.92 L993.20 402.93 L993.40 402.93 L993.60 402.93 L993.80 402.93 L994.00 402.93 L994.20 402.93 L994.40 402.93 L994.60 402.93 L994.80 402.93 L995.00 402.93 L995.20 402.93 L995.40 402.93 L995.60 402.93 L995.80 402.93 L996.00 402.93 L996.20 402.93 L996.40 402.94 L996.60 402.94 L996.80 402.94 L997.00 402.94 L997.20 402.94 L997.40 402.94 L997.60 402.94 L997.80 402.94 L998.00 402.94 L998.20 402.94 L998.40 402.94 L998.60 402.94 L998.80 402.94 L999.00 402.94 L999.20 402.94 L999.40 402.94 L999.60 402.95 L999.80 402.95 L1000.00 402.95 L1000.20 402.95 L1000.40 402.95 L1000.60 402.95 L1000.80 402.95 L1001.00 402.95 L1001.20 402.95 L1001.40 402.95 L1001.60 402.95 L1001.80 402.95 L1002.00 402.95 L1002.20 402.95 L1002.40 402.95 L1002.60 402.95 L1002.80 402.96 L1003.00 402.96 L1003.20 402.96 L1003.40 402.96 L1003.60 402.96 L1003.80 402.96 L1004.00 402.96 L1004.20 402.96 L1004.40 402.96 L1004.60 402.96 L1004.80 402.96 L1005.00 402.96 L1005.20 402.96 L1005.40 402.96 L1005.60 402.96 L1005.80 402.96 L1006.00 402.97 L1006.20 402.97 L1006.40 402.97 L1006.60 402.97 L1006.80 402.97 L1007.00 402.97 L1007.20 402.97 L1007.40 402.97 L1007.60 402.97 L1007.80 402.97 L1008.00 402.97 L1008.20 402.97 L1008.40 402.97 L1008.60 402.97 L1008.80 402.97 L1009.00 402.97 L1009.20 402.98 L1009.40 402.98 L1009.60 402.98 L1009.80 402.98 L1010.00 402.98 L1010.20 402.98 L1010.40 402.98 L1010.60 402.98 L1010.80 402.98 L1011.00 402.98 L1011.20 402.98 L1011.40 402.98 L1011.60 402.98 L1011.80 402.98 L1012.00 402.98 L1012.20 402.99 L1012.40 402.99 L1012.60 402.99 L1012.80 402.99 L1013.00 402.99 L1013.20 402.99 L1013.40 402.99 L1013.60 402.99 L1013.80 402.99 L1014.00 402.99 L1014.20 402.99 L1014.40 402.99 L1014.60 402.99 L1014.80 402.99 L1015.00 402.99 L1015.20 402.99 L1015.40 402.99 L1015.60 403.00 L1015.80 403.00 L1016.00 403.00 L1016.20 403.00 L1016.40 403.00 L1016.60 403.00 L1016.80 403.00 L1017.00 403.00"/>
</g>
<g stroke="#1a1a1a" stroke-width="1.1">
<path d="M23.6 409V415.8"/>
<path d="M85.5 409V415.8"/>
<path d="M147.4 409V415.8"/>
<path d="M210.4 409V415.8"/>
<path d="M272.4 409V415.8"/>
<path d="M334.4 409V415.8"/>
<path d="M373.4 409V415.8"/>
<path d="M472.5 409V415.8"/>
<path d="M568.5 409V415.8"/>
<path d="M667.4 409V415.8"/>
<path d="M737.3 413V420.6"/>
<path d="M807.6 413V420.6"/>
<path d="M876.8 413V420.6"/>
<path d="M946.5 413V420.6"/>
<path d="M1016.8 413V420.6"/>
</g></svg>
<div class="t ttl" style="left:17px;top:12px;font-size:17.90px;font-weight:bold;transform:translateX(0.18px) scaleX(0.9964);">低聚果糖糖浆分析</div>
<div class="t ttl" style="left:375px;top:12px;font-size:17.90px;font-weight:bold;transform:translateX(0.19px) scaleX(0.9951);">壳寡糖的分析</div>
<div class="t ttl" style="left:732px;top:12px;font-size:17.90px;font-weight:bold;transform:translateX(0.23px);">寡聚半乳糖羧酸的分析</div>
<div class="t" style="left:88px;top:52px;font-size:13.40px;transform:translateX(0.72px) scaleX(0.9969);"><i class="c">样品</i></div>
<div class="t" style="left:118px;top:52px;font-size:13.40px;transform:translateX(0.34px) scaleX(0.9550);">:</div>
<div class="t" style="left:124px;top:52px;font-size:13.40px;transform:translateX(0.41px) scaleX(0.9649);">2.5%, 20µL</div>
<div class="t" style="left:88px;top:68px;font-size:13.40px;transform:translateX(0.41px) scaleX(0.9980);"><i class="c">低聚果糖糖浆</i></div>
<div class="t" style="left:164px;top:68px;font-size:13.40px;transform:translateX(0.91px) scaleX(0.9505);">(Fructooligosaccharide syrup),</div>
<div class="t" style="left:89px;top:84px;font-size:13.40px;transform:translateX(0.09px) scaleX(0.9550);">1.</div>
<div class="t" style="left:102px;top:84px;font-size:13.40px;transform:translateX(0.41px) scaleX(1.0195);"><i class="c">果糖</i></div>
<div class="t" style="left:132px;top:84px;font-size:13.40px;transform:translateX(0.02px) scaleX(0.9324);">(Fructose)</div>
<div class="t" style="left:88px;top:100px;font-size:13.40px;transform:translateX(0.43px) scaleX(0.9550);">2.</div>
<div class="t" style="left:102px;top:100px;font-size:13.40px;transform:translateX(0.42px) scaleX(1.0088);"><i class="c">葡萄糖</i></div>
<div class="t" style="left:144px;top:100px;font-size:13.40px;transform:translateX(0.52px) scaleX(0.9254);">(Glucose)</div>
<div class="t" style="left:88px;top:117px;font-size:13.40px;transform:translateX(0.35px) scaleX(0.9550);">3.</div>
<div class="t" style="left:102px;top:117px;font-size:13.40px;transform:translateX(0.58px) scaleX(1.0151);"><i class="c">蔗糖</i></div>
<div class="t" style="left:131px;top:117px;font-size:13.40px;transform:translateX(0.82px) scaleX(0.9272);">(Sucrose)</div>
<div class="t" style="left:88px;top:133px;font-size:13.40px;transform:translateX(0.44px) scaleX(0.9550);">4.</div>
<div class="t" style="left:102px;top:133px;font-size:13.40px;transform:translateX(0.54px) scaleX(0.9874);"><i class="c">蔗果三糖</i></div>
<div class="t" style="left:157px;top:133px;font-size:13.40px;transform:translateX(0.31px) scaleX(0.9393);">(1-Kestose)</div>
<div class="t" style="left:88px;top:149px;font-size:13.40px;transform:translateX(0.41px) scaleX(0.9550);">5.</div>
<div class="t" style="left:102px;top:149px;font-size:13.40px;transform:translateX(0.54px) scaleX(0.9874);"><i class="c">蔗果四糖</i></div>
<div class="t" style="left:157px;top:149px;font-size:13.40px;transform:translateX(0.32px) scaleX(0.9316);">(Nystose)</div>
<div class="t" style="left:88px;top:165px;font-size:13.40px;transform:translateX(0.41px) scaleX(0.9550);">6.</div>
<div class="t" style="left:102px;top:165px;font-size:13.40px;transform:translateX(0.54px) scaleX(0.9874);"><i class="c">蔗果五糖</i></div>
<div class="t" style="left:157px;top:165px;font-size:13.40px;transform:translateX(0.31px) scaleX(0.9563);">(1-Fructofuranosyl-D-nystose)</div>
<div class="t" style="left:431px;top:52px;font-size:13.40px;transform:translateX(0.63px) scaleX(0.9840);"><i class="c">样品</i></div>
<div class="t" style="left:460px;top:52px;font-size:13.40px;transform:translateX(0.64px) scaleX(0.9550);">:</div>
<div class="t" style="left:467px;top:52px;font-size:13.40px;transform:translateX(0.41px) scaleX(0.9633);">2%, 20µL</div>
<div class="t" style="left:431px;top:68px;font-size:13.40px;transform:translateX(0.48px) scaleX(0.9843);"><i class="c">壳寡糖</i></div>
<div class="t" style="left:473px;top:68px;font-size:13.40px;transform:translateX(0.61px) scaleX(0.9508);">(Chitooligosaccharides)</div>
<div class="t" style="left:432px;top:84px;font-size:13.40px;transform:translateX(0.49px) scaleX(0.9550);">1.</div>
<div class="t" style="left:444px;top:84px;font-size:13.40px;transform:translateX(0.54px) scaleX(0.9550);">D-</div>
<div class="t" style="left:457px;top:84px;font-size:13.40px;transform:translateX(0.60px) scaleX(1.0050);"><i class="c">氨基葡萄糖</i></div>
<div class="t" style="left:525px;top:84px;font-size:13.40px;transform:translateX(0.91px) scaleX(0.9427);">(D-Glucosamine)</div>
<div class="t" style="left:431px;top:100px;font-size:13.40px;transform:translateX(0.53px) scaleX(0.9550);">2.</div>
<div class="t" style="left:445px;top:100px;font-size:13.40px;transform:translateX(0.23px) scaleX(1.0149);"><i class="c">壳二糖盐酸盐</i></div>
<div class="t" style="left:525px;top:100px;font-size:13.40px;transform:translateX(0.61px) scaleX(0.9573);">(Chitobiose hydrochloride)</div>
<div class="t" style="left:431px;top:117px;font-size:13.40px;transform:translateX(0.45px) scaleX(0.9550);">3.</div>
<div class="t" style="left:445px;top:117px;font-size:13.40px;transform:translateX(0.23px) scaleX(1.0149);"><i class="c">壳三糖盐酸盐</i></div>
<div class="t" style="left:525px;top:117px;font-size:13.40px;transform:translateX(0.61px) scaleX(0.9573);">(Chitobiose hydrochloride)</div>
<div class="t" style="left:431px;top:133px;font-size:13.40px;transform:translateX(0.54px) scaleX(0.9550);">4.</div>
<div class="t" style="left:445px;top:133px;font-size:13.40px;transform:translateX(0.23px) scaleX(1.0149);"><i class="c">壳四糖盐酸盐</i></div>
<div class="t" style="left:525px;top:133px;font-size:13.40px;transform:translateX(0.61px) scaleX(0.9536);">(Chitotetraose hydrochloride)</div>
<div class="t" style="left:431px;top:149px;font-size:13.40px;transform:translateX(0.51px) scaleX(0.9550);">5.</div>
<div class="t" style="left:445px;top:149px;font-size:13.40px;transform:translateX(0.23px) scaleX(1.0149);"><i class="c">壳五糖盐酸盐</i></div>
<div class="t" style="left:525px;top:149px;font-size:13.40px;transform:translateX(0.61px) scaleX(0.9540);">(Chitopentaose hydrochloride)</div>
<div class="t" style="left:431px;top:165px;font-size:13.40px;transform:translateX(0.51px) scaleX(0.9550);">6.</div>
<div class="t" style="left:445px;top:165px;font-size:13.40px;transform:translateX(0.23px) scaleX(1.0149);"><i class="c">壳六糖盐酸盐</i></div>
<div class="t" style="left:525px;top:165px;font-size:13.40px;transform:translateX(0.61px) scaleX(0.9486);">(Chitohexaose hydrochloride)</div>
<div class="t" style="left:874px;top:47px;font-size:13.20px;transform:translateX(0.34px) scaleX(0.9725);"><i class="c3">样品</i></div>
<div class="t" style="left:903px;top:47px;font-size:13.20px;transform:translateX(0.06px) scaleX(0.9050);">:</div>
<div class="t" style="left:910px;top:47px;font-size:13.20px;transform:translateX(0.36px) scaleX(1.0103);"><i class="c3">寡聚半乳糖羧酸</i></div>
<div class="t" style="left:909px;top:61px;font-size:13.20px;transform:translateX(0.82px) scaleX(0.9279);">(Oligogalacturonic acids)</div>
<div class="t" style="left:874px;top:77px;font-size:13.20px;transform:translateX(0.44px) scaleX(0.9050);">1.</div>
<div class="t" style="left:887px;top:77px;font-size:13.20px;transform:translateX(0.20px) scaleX(1.0222);"><i class="c3">半乳糖羧酸</i></div>
<div class="t" style="left:887px;top:93px;font-size:13.20px;transform:translateX(0.33px) scaleX(0.9121);">(Galacturonic acid)</div>
<div class="t" style="left:873px;top:109px;font-size:13.20px;transform:translateX(0.56px) scaleX(0.9050);">2.</div>
<div class="t" style="left:887px;top:109px;font-size:13.20px;transform:translateX(0.26px) scaleX(1.0128);"><i class="c3">寡聚半乳糖羧酸二聚体</i></div>
<div class="t" style="left:887px;top:125px;font-size:13.20px;transform:translateX(0.32px) scaleX(0.9213);">(Oligogalacturonic acid dimer)</div>
<div class="t" style="left:873px;top:140px;font-size:13.20px;transform:translateX(0.49px) scaleX(0.9050);">3.</div>
<div class="t" style="left:887px;top:140px;font-size:13.20px;transform:translateX(0.26px) scaleX(1.0128);"><i class="c3">寡聚半乳糖羧酸三聚体</i></div>
<div class="t" style="left:887px;top:156px;font-size:13.20px;transform:translateX(0.32px) scaleX(0.9221);">(Oligogalacturonic acid trimer)</div>
<div class="t" style="left:873px;top:172px;font-size:13.20px;transform:translateX(0.86px) scaleX(0.9050);">4.</div>
<div class="t" style="left:887px;top:172px;font-size:13.20px;transform:translateX(0.26px) scaleX(1.0128);"><i class="c3">寡聚半乳糖羧酸四聚体</i></div>
<div class="t" style="left:887px;top:187px;font-size:13.20px;transform:translateX(0.36px) scaleX(0.8685);">(Oligogalacturonic acid tetramer)</div>
<div class="t" style="left:873px;top:203px;font-size:13.20px;transform:translateX(0.51px) scaleX(0.9050);">5.</div>
<div class="t" style="left:887px;top:203px;font-size:13.20px;transform:translateX(0.26px) scaleX(1.0128);"><i class="c3">寡聚半乳糖羧酸五聚体</i></div>
<div class="t" style="left:887px;top:218px;font-size:13.20px;transform:translateX(0.34px) scaleX(0.8703);">(Oligogalacturonic acid pentamer)</div>
<div class="t" style="left:873px;top:234px;font-size:13.20px;transform:translateX(0.55px) scaleX(0.9050);">6.</div>
<div class="t" style="left:887px;top:234px;font-size:13.20px;transform:translateX(0.26px) scaleX(1.0128);"><i class="c3">寡聚半乳糖羧酸六聚体</i></div>
<div class="t" style="left:887px;top:250px;font-size:13.20px;transform:translateX(0.36px) scaleX(0.8683);">(Oligogalacturonic acid hexamer)</div>
<div class="t b" style="left:23px;top:465px;font-size:13.41px;font-weight:bold;transform:translateX(0.08px) scaleX(1.0362);">Column</div>
<div class="t b" style="left:113px;top:465px;font-size:13.41px;font-weight:bold;transform:translateX(0.82px) scaleX(1.0350);">:</div>
<div class="t b" style="left:123px;top:465px;font-size:13.41px;font-weight:bold;transform:translateX(0.74px) scaleX(1.0355);">Shodex Asahipak NH2P-50 4E</div>
<div class="t" style="left:22px;top:483px;font-size:13.41px;transform:translateX(0.53px) scaleX(1.0237);">Eluent</div>
<div class="t" style="left:114px;top:483px;font-size:13.41px;transform:translateX(0.20px) scaleX(1.0350);">:</div>
<div class="t" style="left:123px;top:483px;font-size:13.41px;transform:translateX(0.32px) scaleX(1.0427);">H<sub>2</sub>O/CH<sub>3</sub>CN=30/70</div>
<div class="t" style="left:22px;top:500px;font-size:13.41px;transform:translateX(0.51px) scaleX(1.0528);">Flow rate</div>
<div class="t" style="left:114px;top:500px;font-size:13.41px;transform:translateX(0.20px) scaleX(1.0350);">:</div>
<div class="t" style="left:123px;top:500px;font-size:13.41px;transform:translateX(0.64px) scaleX(1.0436);">1.0mL/min</div>
<div class="t" style="left:22px;top:517px;font-size:13.41px;transform:translateX(0.49px) scaleX(1.0633);">Detector</div>
<div class="t" style="left:114px;top:517px;font-size:13.41px;transform:translateX(0.20px) scaleX(1.0350);">:</div>
<div class="t" style="left:123px;top:517px;font-size:13.41px;transform:translateX(0.32px) scaleX(1.0350);">RI</div>
<div class="t" style="left:23px;top:535px;font-size:13.41px;transform:translateX(0.03px) scaleX(1.0558);">Column temp.</div>
<div class="t" style="left:114px;top:535px;font-size:13.41px;transform:translateX(0.20px) scaleX(1.0350);">:</div>
<div class="t" style="left:123px;top:535px;font-size:13.41px;transform:translateX(0.88px) scaleX(1.0350);">25<span class="deg">°</span>C</div>
<div class="t b" style="left:381px;top:465px;font-size:13.41px;font-weight:bold;transform:translateX(0.48px) scaleX(1.0362);">Column</div>
<div class="t b" style="left:473px;top:465px;font-size:13.41px;font-weight:bold;transform:translateX(0.12px) scaleX(1.0350);">:</div>
<div class="t b" style="left:482px;top:465px;font-size:13.41px;font-weight:bold;transform:translateX(0.04px) scaleX(1.0355);">Shodex Asahipak NH2P-50 4E</div>
<div class="t" style="left:380px;top:483px;font-size:13.41px;transform:translateX(0.93px) scaleX(1.0237);">Eluent</div>
<div class="t" style="left:473px;top:483px;font-size:13.41px;transform:translateX(0.50px) scaleX(1.0350);">:</div>
<div class="t" style="left:481px;top:483px;font-size:13.41px;transform:translateX(0.62px) scaleX(1.0427);">H<sub>2</sub>O/CH<sub>3</sub>CN=30/70</div>
<div class="t" style="left:380px;top:500px;font-size:13.41px;transform:translateX(0.91px) scaleX(1.0528);">Flow rate</div>
<div class="t" style="left:473px;top:500px;font-size:13.41px;transform:translateX(0.50px) scaleX(1.0350);">:</div>
<div class="t" style="left:481px;top:500px;font-size:13.41px;transform:translateX(0.94px) scaleX(1.0436);">1.0mL/min</div>
<div class="t" style="left:380px;top:517px;font-size:13.41px;transform:translateX(0.89px) scaleX(1.0633);">Detector</div>
<div class="t" style="left:473px;top:517px;font-size:13.41px;transform:translateX(0.50px) scaleX(1.0350);">:</div>
<div class="t" style="left:481px;top:517px;font-size:13.41px;transform:translateX(0.62px) scaleX(1.0350);">RI</div>
<div class="t" style="left:381px;top:535px;font-size:13.41px;transform:translateX(0.43px) scaleX(1.0558);">Column temp.</div>
<div class="t" style="left:473px;top:535px;font-size:13.41px;transform:translateX(0.50px) scaleX(1.0350);">:</div>
<div class="t" style="left:482px;top:535px;font-size:13.41px;transform:translateX(0.18px) scaleX(1.0350);">25<span class="deg">°</span>C</div>
<div class="t b" style="left:733px;top:446px;font-size:13.41px;font-weight:bold;transform:translateX(0.58px) scaleX(1.0362);">Column</div>
<div class="t b" style="left:824px;top:446px;font-size:13.41px;font-weight:bold;transform:translateX(0.62px) scaleX(1.0350);">:</div>
<div class="t b" style="left:834px;top:446px;font-size:13.41px;font-weight:bold;transform:translateX(0.14px) scaleX(1.0366);">Shodex Asahipak NH2P-50 4E</div>
<div class="t" style="left:733px;top:464px;font-size:13.41px;transform:translateX(0.03px) scaleX(1.0237);">Eluent</div>
<div class="t" style="left:825px;top:464px;font-size:13.41px;transform:scaleX(1.0350);">:</div>
<div class="t" style="left:834px;top:464px;font-size:13.41px;transform:translateX(0.42px) scaleX(0.9929);">0.3M Sodium phosphate buffer(pH4.4)</div>
<div class="t" style="left:733px;top:481px;font-size:13.41px;transform:scaleX(1.0528);">Flow rate</div>
<div class="t" style="left:825px;top:481px;font-size:13.41px;transform:scaleX(1.0350);">:</div>
<div class="t" style="left:834px;top:481px;font-size:13.41px;transform:translateX(0.04px) scaleX(1.0436);">1.0mL/min</div>
<div class="t" style="left:732px;top:498px;font-size:13.41px;transform:translateX(0.99px) scaleX(1.0633);">Detector</div>
<div class="t" style="left:825px;top:498px;font-size:13.41px;transform:scaleX(1.0350);">:</div>
<div class="t" style="left:834px;top:498px;font-size:13.41px;transform:translateX(0.04px);">UV(210nm)</div>
<div class="t" style="left:733px;top:516px;font-size:13.41px;transform:translateX(0.53px) scaleX(1.0558);">Column temp.</div>
<div class="t" style="left:825px;top:516px;font-size:13.41px;transform:scaleX(1.0350);">:</div>
<div class="t" style="left:834px;top:516px;font-size:13.41px;transform:translateX(0.63px) scaleX(1.0350);">40<span class="deg">°</span>C</div>
<div class="t cb" style="left:838px;top:540px;font-size:12.90px;transform:translateX(0.41px) scaleX(1.0034);">样品由京都女子大学的吉野老师提供</div>
<div class="t ax" style="left:20px;top:416px;font-size:10.80px;transform:translateX(0.16px) scaleX(1.1267);">0</div>
<div class="t ax" style="left:82px;top:416px;font-size:10.80px;transform:translateX(0.12px) scaleX(1.0694);">5</div>
<div class="t ax" style="left:140px;top:416px;font-size:10.80px;transform:translateX(0.64px) scaleX(1.0989);">10</div>
<div class="t ax" style="left:203px;top:416px;font-size:10.80px;transform:translateX(0.65px) scaleX(1.1012);">15</div>
<div class="t ax" style="left:265px;top:416px;font-size:10.80px;transform:translateX(0.83px) scaleX(1.0690);">20</div>
<div class="t ax" style="left:327px;top:416px;font-size:10.80px;transform:translateX(0.85px) scaleX(1.0702);">25</div>
<div class="t ax" style="left:321px;top:428px;font-size:10.80px;transform:translateX(0.49px) scaleX(1.1290);">min</div>
<div class="t ax" style="left:369px;top:416px;font-size:10.80px;transform:translateX(0.96px) scaleX(1.1267);">0</div>
<div class="t ax" style="left:469px;top:416px;font-size:10.80px;transform:translateX(0.12px) scaleX(1.0694);">5</div>
<div class="t ax" style="left:561px;top:416px;font-size:10.80px;transform:translateX(0.74px) scaleX(1.0989);">10</div>
<div class="t ax" style="left:660px;top:416px;font-size:10.80px;transform:translateX(0.65px) scaleX(1.1012);">15</div>
<div class="t ax" style="left:679px;top:416px;font-size:10.80px;transform:translateX(0.20px) scaleX(1.0622);">min</div>
<div class="t ax" style="left:733px;top:421px;font-size:10.80px;transform:translateX(0.86px) scaleX(1.1267);">0</div>
<div class="t ax" style="left:804px;top:421px;font-size:10.80px;transform:translateX(0.22px) scaleX(1.0694);">5</div>
<div class="t ax" style="left:870px;top:421px;font-size:10.80px;transform:translateX(0.04px) scaleX(1.0989);">10</div>
<div class="t ax" style="left:939px;top:421px;font-size:10.80px;transform:translateX(0.75px) scaleX(1.1012);">15</div>
<div class="t ax" style="left:1010px;top:421px;font-size:10.80px;transform:translateX(0.23px) scaleX(1.0690);">20</div>
<div class="t ax" style="left:1030px;top:421px;font-size:10.80px;transform:translateX(0.18px) scaleX(1.1168);">min</div>
<div class="t ax" style="left:86px;top:363px;font-size:10.80px;transform:translateX(0.25px);">1</div>
<div class="t ax" style="left:99px;top:224px;font-size:10.80px;transform:translateX(0.61px);">2</div>
<div class="t ax" style="left:118px;top:331px;font-size:10.80px;transform:translateX(0.79px);">3</div>
<div class="t ax" style="left:157px;top:291px;font-size:10.80px;transform:translateX(0.72px);">4</div>
<div class="t ax" style="left:204px;top:315px;font-size:10.80px;transform:translateX(0.18px);">5</div>
<div class="t ax" style="left:273px;top:370px;font-size:10.80px;transform:translateX(0.30px);">6</div>
<div class="t ax" style="left:478px;top:230px;font-size:10.80px;transform:translateX(0.35px);">1</div>
<div class="t ax" style="left:493px;top:268px;font-size:10.80px;transform:translateX(0.21px);">2</div>
<div class="t ax" style="left:516px;top:289px;font-size:10.80px;transform:translateX(0.29px);">3</div>
<div class="t ax" style="left:547px;top:310px;font-size:10.80px;transform:translateX(0.52px);">4</div>
<div class="t ax" style="left:589px;top:332px;font-size:10.80px;transform:translateX(0.58px);">5</div>
<div class="t ax" style="left:643px;top:350px;font-size:10.80px;transform:translateX(0.50px);">6</div>
<div class="t ax" style="left:788px;top:380px;font-size:10.80px;transform:translateX(0.85px);">1</div>
<div class="t ax" style="left:797px;top:352px;font-size:10.80px;transform:translateX(0.91px);">2</div>
<div class="t ax" style="left:819px;top:178px;font-size:10.80px;transform:translateX(0.99px);">3</div>
<div class="t ax" style="left:853px;top:102px;font-size:10.80px;font-weight:bold;transform:translateX(0.71px);">4</div>
<div class="t ax" style="left:883px;top:318px;font-size:10.80px;transform:translateX(0.88px);">5</div>
<div class="t ax" style="left:908px;top:293px;font-size:10.80px;transform:translateX(0.90px);">6</div>
</body>
</html>
